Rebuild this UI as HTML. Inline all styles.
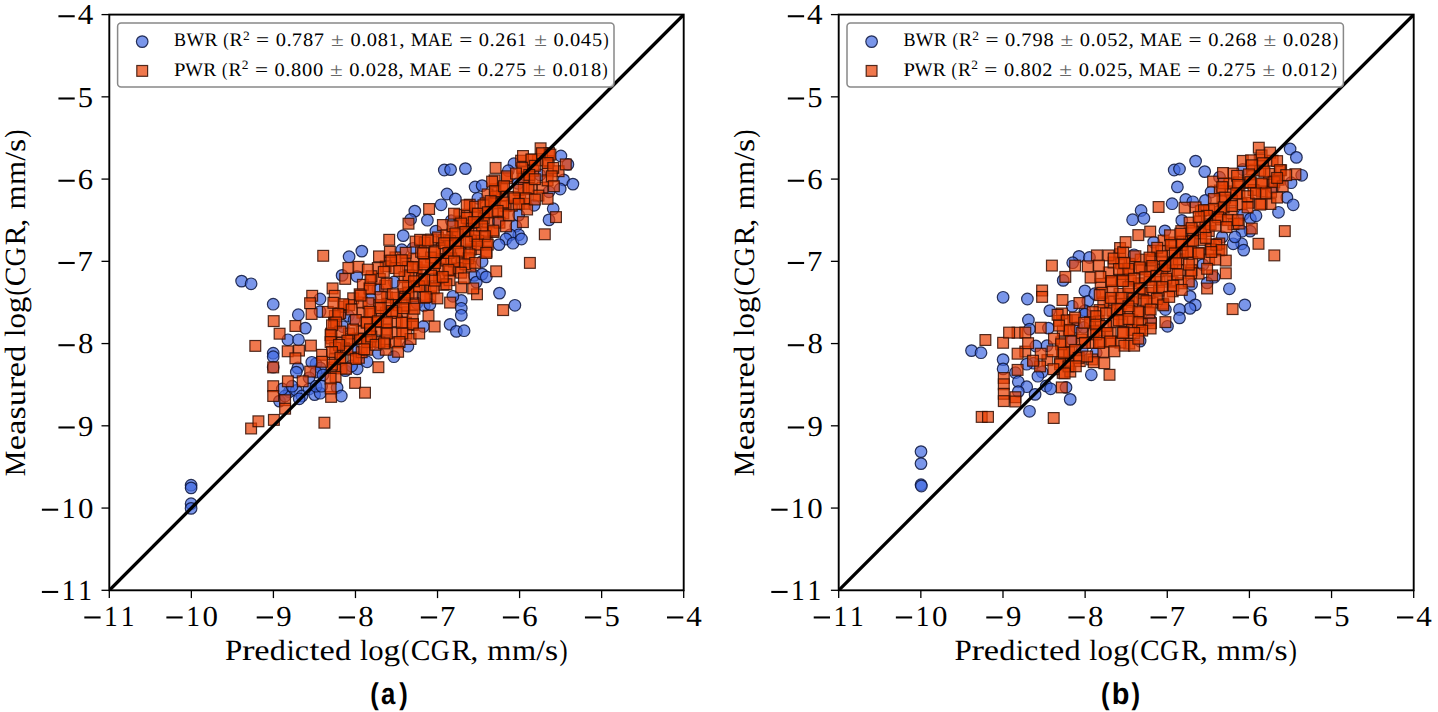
<!DOCTYPE html><html><head><meta charset="utf-8"><style>html,body{margin:0;padding:0;background:#fff;overflow:hidden}svg{display:block}</style></head><body>
<svg width="1438" height="712" viewBox="0 0 1438 712" text-rendering="geometricPrecision">
<rect width="1438" height="712" fill="#fff"/>
<clipPath id="clip0"><rect x="109.3" y="14.6" width="574.4000000000001" height="575.6999999999999"/></clipPath>
<g clip-path="url(#clip0)">
<g fill="rgb(65,105,225)" fill-opacity=".7" stroke="rgb(10,20,60)" stroke-opacity=".85" stroke-width="1.2"><circle cx="474.2" cy="275.4" r="5.8"/><circle cx="444.3" cy="170.0" r="5.8"/><circle cx="450.6" cy="169.6" r="5.8"/><circle cx="465.4" cy="168.6" r="5.8"/><circle cx="441.1" cy="204.8" r="5.8"/><circle cx="414.8" cy="211.1" r="5.8"/><circle cx="427.4" cy="220.2" r="5.8"/><circle cx="410.6" cy="219.5" r="5.8"/><circle cx="435.9" cy="231.1" r="5.8"/><circle cx="342.1" cy="275.4" r="5.8"/><circle cx="345.3" cy="370.6" r="5.8"/><circle cx="320.0" cy="299.0" r="5.8"/><circle cx="320.0" cy="311.6" r="5.8"/><circle cx="416.9" cy="303.2" r="5.8"/><circle cx="499.5" cy="293.1" r="5.8"/><circle cx="514.9" cy="305.3" r="5.8"/><circle cx="476.3" cy="282.1" r="5.8"/><circle cx="241.6" cy="281.1" r="5.8"/><circle cx="251.1" cy="283.8" r="5.8"/><circle cx="273.2" cy="304.2" r="5.8"/><circle cx="191.1" cy="485.2" r="5.8"/><circle cx="191.1" cy="487.9" r="5.8"/><circle cx="191.1" cy="503.7" r="5.8"/><circle cx="191.1" cy="508.4" r="5.8"/><circle cx="279.5" cy="401.1" r="5.8"/><circle cx="403.2" cy="235.6" r="5.8"/><circle cx="361.8" cy="251.1" r="5.8"/><circle cx="349.1" cy="256.7" r="5.8"/><circle cx="356.9" cy="276.3" r="5.8"/><circle cx="348.4" cy="315.7" r="5.8"/><circle cx="354.0" cy="319.9" r="5.8"/><circle cx="424.3" cy="305.8" r="5.8"/><circle cx="429.9" cy="304.4" r="5.8"/><circle cx="370.9" cy="298.8" r="5.8"/><circle cx="377.9" cy="289.0" r="5.8"/><circle cx="394.1" cy="282.0" r="5.8"/><circle cx="413.0" cy="248.3" r="5.8"/><circle cx="401.8" cy="249.7" r="5.8"/><circle cx="447.0" cy="194.0" r="5.8"/><circle cx="455.4" cy="199.0" r="5.8"/><circle cx="475.1" cy="187.0" r="5.8"/><circle cx="482.1" cy="185.6" r="5.8"/><circle cx="477.9" cy="198.3" r="5.8"/><circle cx="451.2" cy="220.7" r="5.8"/><circle cx="515.8" cy="226.3" r="5.8"/><circle cx="518.7" cy="234.8" r="5.8"/><circle cx="510.2" cy="234.8" r="5.8"/><circle cx="506.0" cy="239.0" r="5.8"/><circle cx="513.0" cy="243.2" r="5.8"/><circle cx="521.5" cy="239.0" r="5.8"/><circle cx="499.0" cy="244.6" r="5.8"/><circle cx="482.1" cy="261.5" r="5.8"/><circle cx="482.1" cy="274.1" r="5.8"/><circle cx="534.1" cy="205.3" r="5.8"/><circle cx="518.7" cy="215.1" r="5.8"/><circle cx="486.3" cy="276.9" r="5.8"/><circle cx="560.9" cy="156.0" r="5.8"/><circle cx="567.9" cy="164.4" r="5.8"/><circle cx="563.7" cy="179.9" r="5.8"/><circle cx="572.9" cy="184.1" r="5.8"/><circle cx="560.2" cy="189.0" r="5.8"/><circle cx="549.0" cy="191.8" r="5.8"/><circle cx="553.2" cy="208.7" r="5.8"/><circle cx="549.0" cy="219.9" r="5.8"/><circle cx="513.9" cy="163.7" r="5.8"/><circle cx="508.3" cy="170.7" r="5.8"/><circle cx="539.9" cy="174.9" r="5.8"/><circle cx="518.1" cy="183.4" r="5.8"/><circle cx="498.4" cy="221.3" r="5.8"/><circle cx="298.3" cy="314.7" r="5.8"/><circle cx="305.3" cy="328.1" r="5.8"/><circle cx="357.2" cy="368.8" r="5.8"/><circle cx="351.6" cy="366.0" r="5.8"/><circle cx="367.1" cy="361.8" r="5.8"/><circle cx="354.4" cy="350.6" r="5.8"/><circle cx="343.2" cy="326.7" r="5.8"/><circle cx="461.3" cy="300.5" r="5.8"/><circle cx="461.3" cy="308.3" r="5.8"/><circle cx="461.3" cy="315.3" r="5.8"/><circle cx="450.1" cy="324.4" r="5.8"/><circle cx="456.4" cy="331.4" r="5.8"/><circle cx="464.1" cy="330.7" r="5.8"/><circle cx="452.9" cy="296.3" r="5.8"/><circle cx="423.4" cy="326.5" r="5.8"/><circle cx="407.9" cy="346.2" r="5.8"/><circle cx="393.9" cy="356.7" r="5.8"/><circle cx="378.4" cy="353.2" r="5.8"/><circle cx="297.8" cy="367.9" r="5.8"/><circle cx="296.3" cy="372.1" r="5.8"/><circle cx="316.0" cy="363.7" r="5.8"/><circle cx="320.2" cy="367.9" r="5.8"/><circle cx="316.0" cy="372.1" r="5.8"/><circle cx="323.0" cy="374.9" r="5.8"/><circle cx="309.0" cy="377.8" r="5.8"/><circle cx="289.3" cy="391.8" r="5.8"/><circle cx="296.3" cy="390.4" r="5.8"/><circle cx="302.0" cy="396.0" r="5.8"/><circle cx="309.0" cy="389.0" r="5.8"/><circle cx="314.6" cy="394.6" r="5.8"/><circle cx="320.2" cy="393.2" r="5.8"/><circle cx="316.0" cy="386.2" r="5.8"/><circle cx="321.6" cy="386.2" r="5.8"/><circle cx="285.1" cy="396.0" r="5.8"/><circle cx="282.3" cy="389.0" r="5.8"/><circle cx="292.1" cy="386.2" r="5.8"/><circle cx="337.1" cy="387.6" r="5.8"/><circle cx="341.3" cy="396.0" r="5.8"/><circle cx="311.8" cy="362.3" r="5.8"/><circle cx="299.2" cy="398.8" r="5.8"/><circle cx="273.2" cy="353.2" r="5.8"/><circle cx="273.2" cy="356.7" r="5.8"/><circle cx="273.2" cy="367.2" r="5.8"/><circle cx="287.9" cy="339.8" r="5.8"/><circle cx="298.5" cy="339.8" r="5.8"/></g>
<g fill="rgb(234,62,2)" fill-opacity=".7" stroke="rgb(50,15,5)" stroke-opacity=".85" stroke-width="1.2"><rect x="397.7" y="306.8" width="10.8" height="10.8"/><rect x="446.9" y="228.4" width="10.8" height="10.8"/><rect x="490.3" y="183.8" width="10.8" height="10.8"/><rect x="328.7" y="362.2" width="10.8" height="10.8"/><rect x="482.1" y="189.0" width="10.8" height="10.8"/><rect x="481.3" y="235.9" width="10.8" height="10.8"/><rect x="380.5" y="307.2" width="10.8" height="10.8"/><rect x="390.2" y="327.6" width="10.8" height="10.8"/><rect x="373.0" y="310.5" width="10.8" height="10.8"/><rect x="478.9" y="208.9" width="10.8" height="10.8"/><rect x="379.8" y="335.9" width="10.8" height="10.8"/><rect x="444.4" y="265.5" width="10.8" height="10.8"/><rect x="469.5" y="227.4" width="10.8" height="10.8"/><rect x="357.0" y="307.3" width="10.8" height="10.8"/><rect x="380.4" y="344.4" width="10.8" height="10.8"/><rect x="424.9" y="291.0" width="10.8" height="10.8"/><rect x="336.1" y="363.0" width="10.8" height="10.8"/><rect x="384.3" y="255.4" width="10.8" height="10.8"/><rect x="497.0" y="182.7" width="10.8" height="10.8"/><rect x="374.0" y="336.6" width="10.8" height="10.8"/><rect x="408.6" y="253.2" width="10.8" height="10.8"/><rect x="363.9" y="283.0" width="10.8" height="10.8"/><rect x="400.0" y="255.3" width="10.8" height="10.8"/><rect x="415.7" y="246.4" width="10.8" height="10.8"/><rect x="480.8" y="226.4" width="10.8" height="10.8"/><rect x="496.6" y="190.6" width="10.8" height="10.8"/><rect x="356.2" y="326.2" width="10.8" height="10.8"/><rect x="506.4" y="200.3" width="10.8" height="10.8"/><rect x="347.9" y="352.1" width="10.8" height="10.8"/><rect x="452.7" y="229.4" width="10.8" height="10.8"/><rect x="490.3" y="191.1" width="10.8" height="10.8"/><rect x="435.2" y="254.0" width="10.8" height="10.8"/><rect x="406.6" y="290.7" width="10.8" height="10.8"/><rect x="455.6" y="247.2" width="10.8" height="10.8"/><rect x="334.8" y="307.7" width="10.8" height="10.8"/><rect x="338.1" y="301.4" width="10.8" height="10.8"/><rect x="487.7" y="207.0" width="10.8" height="10.8"/><rect x="425.9" y="234.1" width="10.8" height="10.8"/><rect x="407.2" y="319.6" width="10.8" height="10.8"/><rect x="489.2" y="174.9" width="10.8" height="10.8"/><rect x="365.2" y="326.2" width="10.8" height="10.8"/><rect x="402.4" y="281.8" width="10.8" height="10.8"/><rect x="381.6" y="292.0" width="10.8" height="10.8"/><rect x="353.5" y="352.4" width="10.8" height="10.8"/><rect x="390.0" y="252.0" width="10.8" height="10.8"/><rect x="500.2" y="200.7" width="10.8" height="10.8"/><rect x="464.3" y="199.3" width="10.8" height="10.8"/><rect x="462.9" y="225.0" width="10.8" height="10.8"/><rect x="470.0" y="243.7" width="10.8" height="10.8"/><rect x="480.2" y="198.0" width="10.8" height="10.8"/><rect x="328.6" y="317.1" width="10.8" height="10.8"/><rect x="419.8" y="281.1" width="10.8" height="10.8"/><rect x="391.4" y="315.9" width="10.8" height="10.8"/><rect x="438.2" y="279.4" width="10.8" height="10.8"/><rect x="390.6" y="299.8" width="10.8" height="10.8"/><rect x="465.4" y="244.1" width="10.8" height="10.8"/><rect x="453.9" y="209.4" width="10.8" height="10.8"/><rect x="532.5" y="155.0" width="10.8" height="10.8"/><rect x="433.7" y="263.3" width="10.8" height="10.8"/><rect x="436.4" y="242.9" width="10.8" height="10.8"/><rect x="437.5" y="219.6" width="10.8" height="10.8"/><rect x="482.1" y="216.9" width="10.8" height="10.8"/><rect x="330.2" y="371.5" width="10.8" height="10.8"/><rect x="472.8" y="235.4" width="10.8" height="10.8"/><rect x="526.4" y="154.2" width="10.8" height="10.8"/><rect x="380.6" y="317.8" width="10.8" height="10.8"/><rect x="347.8" y="292.9" width="10.8" height="10.8"/><rect x="380.7" y="324.1" width="10.8" height="10.8"/><rect x="357.5" y="279.4" width="10.8" height="10.8"/><rect x="352.6" y="333.1" width="10.8" height="10.8"/><rect x="469.5" y="208.2" width="10.8" height="10.8"/><rect x="464.2" y="217.2" width="10.8" height="10.8"/><rect x="526.3" y="183.7" width="10.8" height="10.8"/><rect x="488.2" y="226.6" width="10.8" height="10.8"/><rect x="515.7" y="155.3" width="10.8" height="10.8"/><rect x="411.3" y="261.9" width="10.8" height="10.8"/><rect x="390.3" y="337.0" width="10.8" height="10.8"/><rect x="543.3" y="155.7" width="10.8" height="10.8"/><rect x="514.8" y="193.8" width="10.8" height="10.8"/><rect x="524.1" y="171.7" width="10.8" height="10.8"/><rect x="508.6" y="191.5" width="10.8" height="10.8"/><rect x="399.6" y="300.2" width="10.8" height="10.8"/><rect x="429.0" y="245.3" width="10.8" height="10.8"/><rect x="356.3" y="346.8" width="10.8" height="10.8"/><rect x="390.5" y="292.3" width="10.8" height="10.8"/><rect x="488.8" y="198.0" width="10.8" height="10.8"/><rect x="501.4" y="172.9" width="10.8" height="10.8"/><rect x="365.0" y="336.1" width="10.8" height="10.8"/><rect x="380.3" y="260.9" width="10.8" height="10.8"/><rect x="400.6" y="317.3" width="10.8" height="10.8"/><rect x="410.4" y="270.3" width="10.8" height="10.8"/><rect x="335.1" y="353.2" width="10.8" height="10.8"/><rect x="417.3" y="265.0" width="10.8" height="10.8"/><rect x="537.1" y="182.1" width="10.8" height="10.8"/><rect x="379.7" y="280.4" width="10.8" height="10.8"/><rect x="410.2" y="236.2" width="10.8" height="10.8"/><rect x="402.3" y="261.5" width="10.8" height="10.8"/><rect x="356.3" y="297.1" width="10.8" height="10.8"/><rect x="345.2" y="333.6" width="10.8" height="10.8"/><rect x="542.3" y="165.8" width="10.8" height="10.8"/><rect x="343.5" y="328.1" width="10.8" height="10.8"/><rect x="411.2" y="280.8" width="10.8" height="10.8"/><rect x="389.9" y="262.7" width="10.8" height="10.8"/><rect x="444.5" y="247.5" width="10.8" height="10.8"/><rect x="329.4" y="353.8" width="10.8" height="10.8"/><rect x="329.4" y="310.6" width="10.8" height="10.8"/><rect x="543.6" y="147.7" width="10.8" height="10.8"/><rect x="326.2" y="333.0" width="10.8" height="10.8"/><rect x="391.0" y="307.5" width="10.8" height="10.8"/><rect x="382.6" y="298.4" width="10.8" height="10.8"/><rect x="527.8" y="165.4" width="10.8" height="10.8"/><rect x="455.5" y="255.6" width="10.8" height="10.8"/><rect x="338.6" y="342.8" width="10.8" height="10.8"/><rect x="408.7" y="299.1" width="10.8" height="10.8"/><rect x="373.5" y="299.7" width="10.8" height="10.8"/><rect x="425.6" y="252.1" width="10.8" height="10.8"/><rect x="433.7" y="272.7" width="10.8" height="10.8"/><rect x="438.1" y="234.5" width="10.8" height="10.8"/><rect x="517.1" y="166.8" width="10.8" height="10.8"/><rect x="425.8" y="282.8" width="10.8" height="10.8"/><rect x="518.1" y="171.8" width="10.8" height="10.8"/><rect x="428.6" y="263.1" width="10.8" height="10.8"/><rect x="372.4" y="262.6" width="10.8" height="10.8"/><rect x="518.4" y="182.4" width="10.8" height="10.8"/><rect x="454.8" y="216.2" width="10.8" height="10.8"/><rect x="425.7" y="270.2" width="10.8" height="10.8"/><rect x="469.9" y="217.2" width="10.8" height="10.8"/><rect x="419.3" y="237.1" width="10.8" height="10.8"/><rect x="452.5" y="262.7" width="10.8" height="10.8"/><rect x="519.2" y="198.4" width="10.8" height="10.8"/><rect x="371.6" y="324.4" width="10.8" height="10.8"/><rect x="444.9" y="235.6" width="10.8" height="10.8"/><rect x="399.1" y="271.7" width="10.8" height="10.8"/><rect x="371.0" y="316.7" width="10.8" height="10.8"/><rect x="418.8" y="256.5" width="10.8" height="10.8"/><rect x="361.5" y="316.7" width="10.8" height="10.8"/><rect x="465.0" y="261.1" width="10.8" height="10.8"/><rect x="354.3" y="288.9" width="10.8" height="10.8"/><rect x="407.3" y="310.6" width="10.8" height="10.8"/><rect x="416.5" y="273.7" width="10.8" height="10.8"/><rect x="335.0" y="337.5" width="10.8" height="10.8"/><rect x="463.0" y="252.9" width="10.8" height="10.8"/><rect x="542.2" y="175.0" width="10.8" height="10.8"/><rect x="329.8" y="342.4" width="10.8" height="10.8"/><rect x="481.1" y="246.3" width="10.8" height="10.8"/><rect x="418.7" y="292.4" width="10.8" height="10.8"/><rect x="361.5" y="344.4" width="10.8" height="10.8"/><rect x="343.7" y="299.7" width="10.8" height="10.8"/><rect x="445.9" y="252.9" width="10.8" height="10.8"/><rect x="453.0" y="237.6" width="10.8" height="10.8"/><rect x="401.0" y="328.1" width="10.8" height="10.8"/><rect x="325.7" y="328.3" width="10.8" height="10.8"/><rect x="365.6" y="306.6" width="10.8" height="10.8"/><rect x="374.5" y="273.6" width="10.8" height="10.8"/><rect x="444.1" y="274.8" width="10.8" height="10.8"/><rect x="533.0" y="190.2" width="10.8" height="10.8"/><rect x="366.1" y="270.8" width="10.8" height="10.8"/><rect x="461.5" y="209.4" width="10.8" height="10.8"/><rect x="399.8" y="288.7" width="10.8" height="10.8"/><rect x="465.4" y="235.2" width="10.8" height="10.8"/><rect x="553.2" y="165.8" width="10.8" height="10.8"/><rect x="498.0" y="208.1" width="10.8" height="10.8"/><rect x="486.7" y="176.2" width="10.8" height="10.8"/><rect x="478.3" y="213.1" width="10.8" height="10.8"/><rect x="494.1" y="217.3" width="10.8" height="10.8"/><rect x="539.4" y="228.9" width="10.8" height="10.8"/><rect x="423.7" y="203.6" width="10.8" height="10.8"/><rect x="403.1" y="218.3" width="10.8" height="10.8"/><rect x="317.8" y="250.4" width="10.8" height="10.8"/><rect x="432.6" y="232.0" width="10.8" height="10.8"/><rect x="441.0" y="229.9" width="10.8" height="10.8"/><rect x="441.0" y="255.2" width="10.8" height="10.8"/><rect x="403.1" y="270.0" width="10.8" height="10.8"/><rect x="327.2" y="283.0" width="10.8" height="10.8"/><rect x="329.3" y="290.4" width="10.8" height="10.8"/><rect x="337.8" y="298.8" width="10.8" height="10.8"/><rect x="403.1" y="287.2" width="10.8" height="10.8"/><rect x="413.6" y="280.9" width="10.8" height="10.8"/><rect x="428.4" y="283.0" width="10.8" height="10.8"/><rect x="441.0" y="278.8" width="10.8" height="10.8"/><rect x="455.8" y="282.0" width="10.8" height="10.8"/><rect x="346.2" y="304.1" width="10.8" height="10.8"/><rect x="363.1" y="297.8" width="10.8" height="10.8"/><rect x="350.4" y="314.6" width="10.8" height="10.8"/><rect x="354.6" y="333.6" width="10.8" height="10.8"/><rect x="405.2" y="333.6" width="10.8" height="10.8"/><rect x="342.0" y="344.1" width="10.8" height="10.8"/><rect x="471.6" y="288.9" width="10.8" height="10.8"/><rect x="497.7" y="304.7" width="10.8" height="10.8"/><rect x="467.8" y="283.0" width="10.8" height="10.8"/><rect x="268.3" y="315.7" width="10.8" height="10.8"/><rect x="274.2" y="328.3" width="10.8" height="10.8"/><rect x="249.9" y="340.5" width="10.8" height="10.8"/><rect x="267.8" y="362.0" width="10.8" height="10.8"/><rect x="245.7" y="423.1" width="10.8" height="10.8"/><rect x="306.8" y="290.4" width="10.8" height="10.8"/><rect x="304.7" y="297.8" width="10.8" height="10.8"/><rect x="325.7" y="391.5" width="10.8" height="10.8"/><rect x="383.8" y="234.4" width="10.8" height="10.8"/><rect x="414.7" y="234.4" width="10.8" height="10.8"/><rect x="422.4" y="235.1" width="10.8" height="10.8"/><rect x="384.5" y="246.4" width="10.8" height="10.8"/><rect x="400.3" y="247.4" width="10.8" height="10.8"/><rect x="417.7" y="247.8" width="10.8" height="10.8"/><rect x="429.5" y="246.8" width="10.8" height="10.8"/><rect x="373.6" y="251.0" width="10.8" height="10.8"/><rect x="385.9" y="255.2" width="10.8" height="10.8"/><rect x="396.4" y="254.8" width="10.8" height="10.8"/><rect x="407.4" y="261.8" width="10.8" height="10.8"/><rect x="418.9" y="259.0" width="10.8" height="10.8"/><rect x="429.5" y="257.6" width="10.8" height="10.8"/><rect x="343.0" y="262.5" width="10.8" height="10.8"/><rect x="353.1" y="261.4" width="10.8" height="10.8"/><rect x="362.4" y="264.2" width="10.8" height="10.8"/><rect x="378.4" y="266.5" width="10.8" height="10.8"/><rect x="393.9" y="265.6" width="10.8" height="10.8"/><rect x="339.8" y="273.5" width="10.8" height="10.8"/><rect x="365.1" y="274.7" width="10.8" height="10.8"/><rect x="381.2" y="278.3" width="10.8" height="10.8"/><rect x="397.8" y="280.5" width="10.8" height="10.8"/><rect x="408.6" y="275.9" width="10.8" height="10.8"/><rect x="418.9" y="274.5" width="10.8" height="10.8"/><rect x="429.5" y="275.2" width="10.8" height="10.8"/><rect x="364.4" y="283.2" width="10.8" height="10.8"/><rect x="355.2" y="290.2" width="10.8" height="10.8"/><rect x="375.3" y="291.6" width="10.8" height="10.8"/><rect x="387.5" y="288.8" width="10.8" height="10.8"/><rect x="399.2" y="293.4" width="10.8" height="10.8"/><rect x="420.3" y="291.7" width="10.8" height="10.8"/><rect x="364.1" y="306.3" width="10.8" height="10.8"/><rect x="375.3" y="302.8" width="10.8" height="10.8"/><rect x="386.6" y="305.6" width="10.8" height="10.8"/><rect x="397.8" y="302.8" width="10.8" height="10.8"/><rect x="409.0" y="303.3" width="10.8" height="10.8"/><rect x="423.1" y="310.3" width="10.8" height="10.8"/><rect x="361.3" y="317.3" width="10.8" height="10.8"/><rect x="372.5" y="315.9" width="10.8" height="10.8"/><rect x="396.4" y="317.3" width="10.8" height="10.8"/><rect x="407.6" y="318.7" width="10.8" height="10.8"/><rect x="513.3" y="184.4" width="10.8" height="10.8"/><rect x="523.1" y="183.0" width="10.8" height="10.8"/><rect x="489.4" y="185.8" width="10.8" height="10.8"/><rect x="509.0" y="192.9" width="10.8" height="10.8"/><rect x="520.3" y="192.9" width="10.8" height="10.8"/><rect x="461.3" y="199.9" width="10.8" height="10.8"/><rect x="469.7" y="201.3" width="10.8" height="10.8"/><rect x="478.1" y="199.9" width="10.8" height="10.8"/><rect x="485.2" y="195.7" width="10.8" height="10.8"/><rect x="497.8" y="197.1" width="10.8" height="10.8"/><rect x="513.3" y="198.5" width="10.8" height="10.8"/><rect x="521.7" y="204.1" width="10.8" height="10.8"/><rect x="448.6" y="208.3" width="10.8" height="10.8"/><rect x="461.3" y="212.5" width="10.8" height="10.8"/><rect x="472.5" y="208.3" width="10.8" height="10.8"/><rect x="482.4" y="206.9" width="10.8" height="10.8"/><rect x="492.2" y="205.5" width="10.8" height="10.8"/><rect x="503.4" y="209.7" width="10.8" height="10.8"/><rect x="517.5" y="216.7" width="10.8" height="10.8"/><rect x="500.6" y="220.9" width="10.8" height="10.8"/><rect x="488.0" y="225.2" width="10.8" height="10.8"/><rect x="476.7" y="220.9" width="10.8" height="10.8"/><rect x="468.3" y="216.7" width="10.8" height="10.8"/><rect x="455.7" y="218.1" width="10.8" height="10.8"/><rect x="447.2" y="220.9" width="10.8" height="10.8"/><rect x="450.0" y="228.0" width="10.8" height="10.8"/><rect x="459.9" y="226.6" width="10.8" height="10.8"/><rect x="469.7" y="230.8" width="10.8" height="10.8"/><rect x="479.5" y="230.8" width="10.8" height="10.8"/><rect x="438.8" y="237.8" width="10.8" height="10.8"/><rect x="450.0" y="237.8" width="10.8" height="10.8"/><rect x="461.3" y="236.4" width="10.8" height="10.8"/><rect x="472.5" y="239.2" width="10.8" height="10.8"/><rect x="482.4" y="239.2" width="10.8" height="10.8"/><rect x="443.0" y="247.6" width="10.8" height="10.8"/><rect x="452.9" y="246.2" width="10.8" height="10.8"/><rect x="464.1" y="249.0" width="10.8" height="10.8"/><rect x="480.9" y="247.6" width="10.8" height="10.8"/><rect x="448.6" y="256.1" width="10.8" height="10.8"/><rect x="459.9" y="258.9" width="10.8" height="10.8"/><rect x="469.7" y="257.5" width="10.8" height="10.8"/><rect x="490.8" y="265.9" width="10.8" height="10.8"/><rect x="524.5" y="257.5" width="10.8" height="10.8"/><rect x="443.0" y="264.5" width="10.8" height="10.8"/><rect x="455.7" y="267.3" width="10.8" height="10.8"/><rect x="437.4" y="271.5" width="10.8" height="10.8"/><rect x="458.5" y="272.9" width="10.8" height="10.8"/><rect x="535.2" y="142.9" width="10.8" height="10.8"/><rect x="517.6" y="150.6" width="10.8" height="10.8"/><rect x="526.0" y="154.1" width="10.8" height="10.8"/><rect x="536.6" y="147.8" width="10.8" height="10.8"/><rect x="545.0" y="149.2" width="10.8" height="10.8"/><rect x="542.2" y="157.6" width="10.8" height="10.8"/><rect x="547.8" y="162.5" width="10.8" height="10.8"/><rect x="560.4" y="159.0" width="10.8" height="10.8"/><rect x="516.9" y="162.5" width="10.8" height="10.8"/><rect x="529.5" y="160.4" width="10.8" height="10.8"/><rect x="490.2" y="162.5" width="10.8" height="10.8"/><rect x="501.5" y="170.9" width="10.8" height="10.8"/><rect x="510.6" y="168.1" width="10.8" height="10.8"/><rect x="523.9" y="169.5" width="10.8" height="10.8"/><rect x="546.4" y="170.9" width="10.8" height="10.8"/><rect x="548.5" y="180.8" width="10.8" height="10.8"/><rect x="498.6" y="180.8" width="10.8" height="10.8"/><rect x="529.5" y="173.8" width="10.8" height="10.8"/><rect x="542.2" y="193.4" width="10.8" height="10.8"/><rect x="529.5" y="194.1" width="10.8" height="10.8"/><rect x="550.6" y="211.7" width="10.8" height="10.8"/><rect x="306.2" y="308.6" width="10.8" height="10.8"/><rect x="322.4" y="306.5" width="10.8" height="10.8"/><rect x="332.9" y="308.6" width="10.8" height="10.8"/><rect x="330.8" y="317.1" width="10.8" height="10.8"/><rect x="335.0" y="326.2" width="10.8" height="10.8"/><rect x="347.6" y="324.1" width="10.8" height="10.8"/><rect x="326.6" y="319.9" width="10.8" height="10.8"/><rect x="325.2" y="329.7" width="10.8" height="10.8"/><rect x="290.0" y="320.6" width="10.8" height="10.8"/><rect x="305.5" y="340.2" width="10.8" height="10.8"/><rect x="282.3" y="345.9" width="10.8" height="10.8"/><rect x="293.6" y="345.2" width="10.8" height="10.8"/><rect x="290.0" y="352.9" width="10.8" height="10.8"/><rect x="325.2" y="336.7" width="10.8" height="10.8"/><rect x="342.0" y="335.3" width="10.8" height="10.8"/><rect x="333.6" y="339.5" width="10.8" height="10.8"/><rect x="316.7" y="349.4" width="10.8" height="10.8"/><rect x="326.6" y="346.6" width="10.8" height="10.8"/><rect x="335.0" y="352.2" width="10.8" height="10.8"/><rect x="350.4" y="353.6" width="10.8" height="10.8"/><rect x="361.7" y="336.7" width="10.8" height="10.8"/><rect x="365.9" y="331.1" width="10.8" height="10.8"/><rect x="358.9" y="343.8" width="10.8" height="10.8"/><rect x="340.6" y="363.4" width="10.8" height="10.8"/><rect x="326.6" y="359.2" width="10.8" height="10.8"/><rect x="316.7" y="356.4" width="10.8" height="10.8"/><rect x="304.8" y="366.2" width="10.8" height="10.8"/><rect x="325.2" y="373.3" width="10.8" height="10.8"/><rect x="325.2" y="383.1" width="10.8" height="10.8"/><rect x="349.7" y="377.5" width="10.8" height="10.8"/><rect x="359.6" y="387.3" width="10.8" height="10.8"/><rect x="328.0" y="297.4" width="10.8" height="10.8"/><rect x="432.0" y="293.0" width="10.8" height="10.8"/><rect x="444.7" y="297.2" width="10.8" height="10.8"/><rect x="429.2" y="321.1" width="10.8" height="10.8"/><rect x="381.5" y="316.9" width="10.8" height="10.8"/><rect x="413.8" y="328.1" width="10.8" height="10.8"/><rect x="381.5" y="328.1" width="10.8" height="10.8"/><rect x="396.9" y="328.1" width="10.8" height="10.8"/><rect x="370.2" y="339.4" width="10.8" height="10.8"/><rect x="378.6" y="338.0" width="10.8" height="10.8"/><rect x="394.1" y="336.6" width="10.8" height="10.8"/><rect x="392.7" y="346.4" width="10.8" height="10.8"/><rect x="373.0" y="361.8" width="10.8" height="10.8"/><rect x="364.6" y="323.9" width="10.8" height="10.8"/><rect x="267.8" y="380.8" width="10.8" height="10.8"/><rect x="267.8" y="390.6" width="10.8" height="10.8"/><rect x="279.7" y="394.8" width="10.8" height="10.8"/><rect x="279.7" y="403.3" width="10.8" height="10.8"/><rect x="297.3" y="375.9" width="10.8" height="10.8"/><rect x="282.5" y="375.9" width="10.8" height="10.8"/><rect x="268.5" y="414.5" width="10.8" height="10.8"/><rect x="253.0" y="415.9" width="10.8" height="10.8"/><rect x="319.0" y="417.3" width="10.8" height="10.8"/></g>
</g>
<line x1="109.3" y1="590.3" x2="683.7" y2="14.6" stroke="#000" stroke-width="3.3" clip-path="url(#clip0)"/>
<rect x="109.3" y="14.6" width="574.4000000000001" height="575.6999999999999" fill="none" stroke="#000" stroke-width="1.9"/>
<line x1="109.30" y1="590.3" x2="109.30" y2="598.0999999999999" stroke="#000" stroke-width="1.3"/>
<line x1="101.5" y1="590.30" x2="109.3" y2="590.30" stroke="#000" stroke-width="1.3"/>
<line x1="191.36" y1="590.3" x2="191.36" y2="598.0999999999999" stroke="#000" stroke-width="1.3"/>
<line x1="101.5" y1="508.06" x2="109.3" y2="508.06" stroke="#000" stroke-width="1.3"/>
<line x1="273.41" y1="590.3" x2="273.41" y2="598.0999999999999" stroke="#000" stroke-width="1.3"/>
<line x1="101.5" y1="425.81" x2="109.3" y2="425.81" stroke="#000" stroke-width="1.3"/>
<line x1="355.47" y1="590.3" x2="355.47" y2="598.0999999999999" stroke="#000" stroke-width="1.3"/>
<line x1="101.5" y1="343.57" x2="109.3" y2="343.57" stroke="#000" stroke-width="1.3"/>
<line x1="437.53" y1="590.3" x2="437.53" y2="598.0999999999999" stroke="#000" stroke-width="1.3"/>
<line x1="101.5" y1="261.33" x2="109.3" y2="261.33" stroke="#000" stroke-width="1.3"/>
<line x1="519.59" y1="590.3" x2="519.59" y2="598.0999999999999" stroke="#000" stroke-width="1.3"/>
<line x1="101.5" y1="179.09" x2="109.3" y2="179.09" stroke="#000" stroke-width="1.3"/>
<line x1="601.64" y1="590.3" x2="601.64" y2="598.0999999999999" stroke="#000" stroke-width="1.3"/>
<line x1="101.5" y1="96.84" x2="109.3" y2="96.84" stroke="#000" stroke-width="1.3"/>
<line x1="683.70" y1="590.3" x2="683.70" y2="598.0999999999999" stroke="#000" stroke-width="1.3"/>
<line x1="101.5" y1="14.60" x2="109.3" y2="14.60" stroke="#000" stroke-width="1.3"/>
<rect x="117.6" y="23.1" width="496.4" height="63.9" rx="3.5" fill="#fff" fill-opacity=".8" stroke="#888" stroke-width="1.5"/>
<circle cx="142.2" cy="41.6" r="5.8" fill="rgb(65,105,225)" fill-opacity=".7" stroke="rgb(10,20,60)" stroke-opacity=".85" stroke-width="1.2"/>
<rect x="136.8" y="65.5" width="10.8" height="10.8" fill="rgb(234,62,2)" fill-opacity=".7" stroke="rgb(50,15,5)" stroke-opacity=".85" stroke-width="1.2"/>
<clipPath id="clip1"><rect x="838.7" y="14.6" width="575.0" height="575.6999999999999"/></clipPath>
<g clip-path="url(#clip1)">
<g fill="rgb(65,105,225)" fill-opacity=".7" stroke="rgb(10,20,60)" stroke-opacity=".85" stroke-width="1.2"><circle cx="1290.1" cy="149.0" r="5.8"/><circle cx="1296.4" cy="157.4" r="5.8"/><circle cx="1301.7" cy="175.3" r="5.8"/><circle cx="1291.1" cy="182.7" r="5.8"/><circle cx="1286.9" cy="197.4" r="5.8"/><circle cx="1293.2" cy="204.8" r="5.8"/><circle cx="1174.2" cy="170.0" r="5.8"/><circle cx="1179.5" cy="169.0" r="5.8"/><circle cx="1177.4" cy="186.9" r="5.8"/><circle cx="1185.8" cy="199.5" r="5.8"/><circle cx="1172.1" cy="203.7" r="5.8"/><circle cx="1250.1" cy="231.1" r="5.8"/><circle cx="1241.6" cy="243.8" r="5.8"/><circle cx="1233.2" cy="243.8" r="5.8"/><circle cx="1243.7" cy="250.1" r="5.8"/><circle cx="1273.2" cy="187.9" r="5.8"/><circle cx="1079.0" cy="256.4" r="5.8"/><circle cx="1072.7" cy="262.7" r="5.8"/><circle cx="1089.5" cy="257.5" r="5.8"/><circle cx="1027.4" cy="299.0" r="5.8"/><circle cx="1028.4" cy="320.0" r="5.8"/><circle cx="1165.4" cy="309.5" r="5.8"/><circle cx="1167.5" cy="326.3" r="5.8"/><circle cx="1140.1" cy="341.1" r="5.8"/><circle cx="1150.6" cy="320.0" r="5.8"/><circle cx="1003.1" cy="297.3" r="5.8"/><circle cx="971.5" cy="350.6" r="5.8"/><circle cx="981.0" cy="352.7" r="5.8"/><circle cx="1003.1" cy="359.6" r="5.8"/><circle cx="1003.1" cy="368.9" r="5.8"/><circle cx="1015.4" cy="372.7" r="5.8"/><circle cx="1033.7" cy="363.2" r="5.8"/><circle cx="1229.4" cy="288.8" r="5.8"/><circle cx="1244.8" cy="304.9" r="5.8"/><circle cx="1190.0" cy="296.4" r="5.8"/><circle cx="1195.3" cy="304.9" r="5.8"/><circle cx="1190.0" cy="308.4" r="5.8"/><circle cx="1179.5" cy="309.5" r="5.8"/><circle cx="1179.5" cy="317.9" r="5.8"/><circle cx="921.0" cy="451.6" r="5.8"/><circle cx="921.0" cy="463.6" r="5.8"/><circle cx="921.0" cy="484.7" r="5.8"/><circle cx="921.4" cy="486.0" r="5.8"/><circle cx="1195.6" cy="161.1" r="5.8"/><circle cx="1204.7" cy="171.6" r="5.8"/><circle cx="1242.7" cy="169.5" r="5.8"/><circle cx="1219.5" cy="177.2" r="5.8"/><circle cx="1211.1" cy="192.0" r="5.8"/><circle cx="1205.4" cy="200.4" r="5.8"/><circle cx="1192.8" cy="201.8" r="5.8"/><circle cx="1243.4" cy="214.4" r="5.8"/><circle cx="1250.4" cy="218.7" r="5.8"/><circle cx="1256.0" cy="215.8" r="5.8"/><circle cx="1278.5" cy="212.3" r="5.8"/><circle cx="1242.0" cy="231.3" r="5.8"/><circle cx="1234.9" cy="236.9" r="5.8"/><circle cx="1222.3" cy="236.9" r="5.8"/><circle cx="1141.1" cy="210.5" r="5.8"/><circle cx="1132.6" cy="219.7" r="5.8"/><circle cx="1143.9" cy="218.3" r="5.8"/><circle cx="1181.8" cy="220.4" r="5.8"/><circle cx="1164.9" cy="230.9" r="5.8"/><circle cx="1153.7" cy="242.1" r="5.8"/><circle cx="1134.0" cy="254.8" r="5.8"/><circle cx="1214.1" cy="277.2" r="5.8"/><circle cx="1207.1" cy="282.9" r="5.8"/><circle cx="1191.6" cy="284.3" r="5.8"/><circle cx="1202.9" cy="264.6" r="5.8"/><circle cx="1063.2" cy="280.4" r="5.8"/><circle cx="1084.9" cy="290.9" r="5.8"/><circle cx="1087.8" cy="301.4" r="5.8"/><circle cx="1049.8" cy="310.6" r="5.8"/><circle cx="1072.3" cy="306.3" r="5.8"/><circle cx="1084.9" cy="310.6" r="5.8"/><circle cx="1084.9" cy="314.1" r="5.8"/><circle cx="1076.5" cy="327.4" r="5.8"/><circle cx="1083.5" cy="327.4" r="5.8"/><circle cx="1072.3" cy="340.1" r="5.8"/><circle cx="1047.0" cy="345.7" r="5.8"/><circle cx="1096.2" cy="352.7" r="5.8"/><circle cx="1082.1" cy="349.9" r="5.8"/><circle cx="1094.8" cy="293.7" r="5.8"/><circle cx="1048.4" cy="328.1" r="5.8"/><circle cx="1029.5" cy="329.1" r="5.8"/><circle cx="1035.8" cy="346.0" r="5.8"/><circle cx="1026.7" cy="364.2" r="5.8"/><circle cx="1042.1" cy="372.0" r="5.8"/><circle cx="1037.9" cy="376.2" r="5.8"/><circle cx="1018.3" cy="381.8" r="5.8"/><circle cx="1026.7" cy="386.7" r="5.8"/><circle cx="1018.3" cy="391.6" r="5.8"/><circle cx="1035.1" cy="394.4" r="5.8"/><circle cx="1046.3" cy="386.0" r="5.8"/><circle cx="1050.6" cy="388.8" r="5.8"/><circle cx="1066.0" cy="387.4" r="5.8"/><circle cx="1070.2" cy="399.4" r="5.8"/><circle cx="1029.5" cy="411.3" r="5.8"/><circle cx="1091.3" cy="374.8" r="5.8"/></g>
<g fill="rgb(234,62,2)" fill-opacity=".7" stroke="rgb(50,15,5)" stroke-opacity=".85" stroke-width="1.2"><rect x="1257.1" y="178.7" width="10.8" height="10.8"/><rect x="1228.1" y="218.8" width="10.8" height="10.8"/><rect x="1063.5" y="324.4" width="10.8" height="10.8"/><rect x="1115.5" y="275.6" width="10.8" height="10.8"/><rect x="1063.4" y="358.5" width="10.8" height="10.8"/><rect x="1217.0" y="194.6" width="10.8" height="10.8"/><rect x="1147.0" y="297.2" width="10.8" height="10.8"/><rect x="1267.8" y="175.8" width="10.8" height="10.8"/><rect x="1104.3" y="296.4" width="10.8" height="10.8"/><rect x="1107.1" y="305.1" width="10.8" height="10.8"/><rect x="1133.3" y="277.9" width="10.8" height="10.8"/><rect x="1213.5" y="245.0" width="10.8" height="10.8"/><rect x="1057.4" y="325.2" width="10.8" height="10.8"/><rect x="1234.0" y="188.1" width="10.8" height="10.8"/><rect x="1203.7" y="254.0" width="10.8" height="10.8"/><rect x="1056.6" y="308.1" width="10.8" height="10.8"/><rect x="1184.2" y="217.2" width="10.8" height="10.8"/><rect x="1225.2" y="186.0" width="10.8" height="10.8"/><rect x="1123.5" y="264.9" width="10.8" height="10.8"/><rect x="1097.9" y="296.7" width="10.8" height="10.8"/><rect x="1245.1" y="177.6" width="10.8" height="10.8"/><rect x="1094.1" y="304.7" width="10.8" height="10.8"/><rect x="1166.3" y="246.1" width="10.8" height="10.8"/><rect x="1193.2" y="268.2" width="10.8" height="10.8"/><rect x="1074.0" y="297.6" width="10.8" height="10.8"/><rect x="1183.7" y="236.0" width="10.8" height="10.8"/><rect x="1265.0" y="198.6" width="10.8" height="10.8"/><rect x="1163.5" y="265.1" width="10.8" height="10.8"/><rect x="1227.7" y="168.2" width="10.8" height="10.8"/><rect x="1203.4" y="225.6" width="10.8" height="10.8"/><rect x="1205.2" y="238.9" width="10.8" height="10.8"/><rect x="1133.7" y="307.1" width="10.8" height="10.8"/><rect x="1166.4" y="237.1" width="10.8" height="10.8"/><rect x="1213.9" y="238.1" width="10.8" height="10.8"/><rect x="1114.8" y="248.8" width="10.8" height="10.8"/><rect x="1125.4" y="275.3" width="10.8" height="10.8"/><rect x="1087.2" y="337.5" width="10.8" height="10.8"/><rect x="1114.5" y="308.7" width="10.8" height="10.8"/><rect x="1145.6" y="317.8" width="10.8" height="10.8"/><rect x="1195.4" y="205.7" width="10.8" height="10.8"/><rect x="1174.3" y="264.7" width="10.8" height="10.8"/><rect x="1193.4" y="247.3" width="10.8" height="10.8"/><rect x="1143.9" y="307.3" width="10.8" height="10.8"/><rect x="1154.2" y="276.6" width="10.8" height="10.8"/><rect x="1056.6" y="347.9" width="10.8" height="10.8"/><rect x="1124.2" y="258.4" width="10.8" height="10.8"/><rect x="1126.6" y="296.8" width="10.8" height="10.8"/><rect x="1246.7" y="164.3" width="10.8" height="10.8"/><rect x="1054.8" y="356.9" width="10.8" height="10.8"/><rect x="1243.4" y="197.4" width="10.8" height="10.8"/><rect x="1166.8" y="257.4" width="10.8" height="10.8"/><rect x="1224.0" y="178.1" width="10.8" height="10.8"/><rect x="1086.7" y="354.0" width="10.8" height="10.8"/><rect x="1167.1" y="276.7" width="10.8" height="10.8"/><rect x="1136.3" y="264.0" width="10.8" height="10.8"/><rect x="1093.5" y="325.0" width="10.8" height="10.8"/><rect x="1095.3" y="278.5" width="10.8" height="10.8"/><rect x="1214.6" y="206.2" width="10.8" height="10.8"/><rect x="1146.0" y="254.4" width="10.8" height="10.8"/><rect x="1186.8" y="256.7" width="10.8" height="10.8"/><rect x="1195.9" y="234.5" width="10.8" height="10.8"/><rect x="1185.4" y="246.2" width="10.8" height="10.8"/><rect x="1248.1" y="184.6" width="10.8" height="10.8"/><rect x="1173.3" y="253.9" width="10.8" height="10.8"/><rect x="1087.3" y="306.7" width="10.8" height="10.8"/><rect x="1267.2" y="155.3" width="10.8" height="10.8"/><rect x="1195.6" y="228.0" width="10.8" height="10.8"/><rect x="1123.9" y="338.2" width="10.8" height="10.8"/><rect x="1106.0" y="336.0" width="10.8" height="10.8"/><rect x="1115.0" y="337.2" width="10.8" height="10.8"/><rect x="1237.4" y="155.5" width="10.8" height="10.8"/><rect x="1214.4" y="185.1" width="10.8" height="10.8"/><rect x="1126.9" y="315.2" width="10.8" height="10.8"/><rect x="1116.9" y="315.6" width="10.8" height="10.8"/><rect x="1094.9" y="337.2" width="10.8" height="10.8"/><rect x="1175.5" y="277.9" width="10.8" height="10.8"/><rect x="1057.3" y="367.5" width="10.8" height="10.8"/><rect x="1263.6" y="168.5" width="10.8" height="10.8"/><rect x="1123.5" y="288.5" width="10.8" height="10.8"/><rect x="1136.4" y="318.7" width="10.8" height="10.8"/><rect x="1233.6" y="177.0" width="10.8" height="10.8"/><rect x="1156.0" y="257.1" width="10.8" height="10.8"/><rect x="1126.3" y="324.6" width="10.8" height="10.8"/><rect x="1076.2" y="334.3" width="10.8" height="10.8"/><rect x="1236.0" y="198.8" width="10.8" height="10.8"/><rect x="1205.5" y="244.0" width="10.8" height="10.8"/><rect x="1147.7" y="245.4" width="10.8" height="10.8"/><rect x="1254.8" y="165.1" width="10.8" height="10.8"/><rect x="1256.1" y="198.2" width="10.8" height="10.8"/><rect x="1167.3" y="285.9" width="10.8" height="10.8"/><rect x="1114.1" y="288.4" width="10.8" height="10.8"/><rect x="1203.7" y="204.8" width="10.8" height="10.8"/><rect x="1063.9" y="346.4" width="10.8" height="10.8"/><rect x="1106.0" y="275.8" width="10.8" height="10.8"/><rect x="1256.4" y="186.1" width="10.8" height="10.8"/><rect x="1254.3" y="154.4" width="10.8" height="10.8"/><rect x="1103.4" y="267.0" width="10.8" height="10.8"/><rect x="1064.9" y="366.2" width="10.8" height="10.8"/><rect x="1205.2" y="218.9" width="10.8" height="10.8"/><rect x="1053.8" y="315.4" width="10.8" height="10.8"/><rect x="1187.7" y="225.4" width="10.8" height="10.8"/><rect x="1074.4" y="355.7" width="10.8" height="10.8"/><rect x="1275.7" y="164.8" width="10.8" height="10.8"/><rect x="1105.3" y="327.6" width="10.8" height="10.8"/><rect x="1177.3" y="247.5" width="10.8" height="10.8"/><rect x="1096.8" y="287.4" width="10.8" height="10.8"/><rect x="1115.8" y="298.5" width="10.8" height="10.8"/><rect x="1124.0" y="305.6" width="10.8" height="10.8"/><rect x="1108.1" y="257.1" width="10.8" height="10.8"/><rect x="1176.7" y="236.0" width="10.8" height="10.8"/><rect x="1068.0" y="314.7" width="10.8" height="10.8"/><rect x="1118.2" y="326.9" width="10.8" height="10.8"/><rect x="1265.7" y="186.5" width="10.8" height="10.8"/><rect x="1093.4" y="316.2" width="10.8" height="10.8"/><rect x="1217.8" y="177.9" width="10.8" height="10.8"/><rect x="1157.0" y="264.1" width="10.8" height="10.8"/><rect x="1226.5" y="195.1" width="10.8" height="10.8"/><rect x="1207.7" y="176.2" width="10.8" height="10.8"/><rect x="1055.9" y="337.0" width="10.8" height="10.8"/><rect x="1144.4" y="274.5" width="10.8" height="10.8"/><rect x="1117.5" y="268.6" width="10.8" height="10.8"/><rect x="1144.3" y="265.9" width="10.8" height="10.8"/><rect x="1144.2" y="287.5" width="10.8" height="10.8"/><rect x="1226.1" y="207.7" width="10.8" height="10.8"/><rect x="1175.9" y="225.7" width="10.8" height="10.8"/><rect x="1137.2" y="287.7" width="10.8" height="10.8"/><rect x="1098.0" y="346.5" width="10.8" height="10.8"/><rect x="1215.5" y="214.1" width="10.8" height="10.8"/><rect x="1273.3" y="174.3" width="10.8" height="10.8"/><rect x="1158.2" y="235.2" width="10.8" height="10.8"/><rect x="1186.1" y="264.8" width="10.8" height="10.8"/><rect x="1137.9" y="294.5" width="10.8" height="10.8"/><rect x="1084.6" y="316.7" width="10.8" height="10.8"/><rect x="1157.7" y="298.3" width="10.8" height="10.8"/><rect x="1108.1" y="316.3" width="10.8" height="10.8"/><rect x="1245.7" y="154.9" width="10.8" height="10.8"/><rect x="1155.9" y="245.5" width="10.8" height="10.8"/><rect x="1194.3" y="216.0" width="10.8" height="10.8"/><rect x="1233.4" y="218.2" width="10.8" height="10.8"/><rect x="1107.1" y="285.1" width="10.8" height="10.8"/><rect x="1115.8" y="258.0" width="10.8" height="10.8"/><rect x="1135.3" y="254.2" width="10.8" height="10.8"/><rect x="1153.6" y="285.3" width="10.8" height="10.8"/><rect x="1134.3" y="324.6" width="10.8" height="10.8"/><rect x="1088.2" y="325.9" width="10.8" height="10.8"/><rect x="1290.0" y="168.8" width="10.8" height="10.8"/><rect x="1279.4" y="225.7" width="10.8" height="10.8"/><rect x="1253.1" y="238.4" width="10.8" height="10.8"/><rect x="1268.9" y="250.0" width="10.8" height="10.8"/><rect x="1210.9" y="239.4" width="10.8" height="10.8"/><rect x="1216.2" y="244.7" width="10.8" height="10.8"/><rect x="1220.4" y="255.2" width="10.8" height="10.8"/><rect x="1220.4" y="267.9" width="10.8" height="10.8"/><rect x="1209.9" y="254.2" width="10.8" height="10.8"/><rect x="1185.7" y="267.9" width="10.8" height="10.8"/><rect x="1164.6" y="229.9" width="10.8" height="10.8"/><rect x="1206.7" y="270.0" width="10.8" height="10.8"/><rect x="1114.7" y="242.6" width="10.8" height="10.8"/><rect x="1103.1" y="250.0" width="10.8" height="10.8"/><rect x="1091.5" y="250.0" width="10.8" height="10.8"/><rect x="1108.3" y="253.1" width="10.8" height="10.8"/><rect x="1117.8" y="246.8" width="10.8" height="10.8"/><rect x="1113.6" y="263.6" width="10.8" height="10.8"/><rect x="1036.7" y="285.1" width="10.8" height="10.8"/><rect x="1036.7" y="291.5" width="10.8" height="10.8"/><rect x="1151.5" y="293.6" width="10.8" height="10.8"/><rect x="1141.0" y="295.7" width="10.8" height="10.8"/><rect x="1132.6" y="306.2" width="10.8" height="10.8"/><rect x="1145.2" y="304.1" width="10.8" height="10.8"/><rect x="1157.9" y="299.9" width="10.8" height="10.8"/><rect x="1160.0" y="316.7" width="10.8" height="10.8"/><rect x="1145.2" y="323.1" width="10.8" height="10.8"/><rect x="1132.6" y="316.7" width="10.8" height="10.8"/><rect x="1136.8" y="325.2" width="10.8" height="10.8"/><rect x="1042.0" y="354.7" width="10.8" height="10.8"/><rect x="1054.6" y="358.9" width="10.8" height="10.8"/><rect x="1063.1" y="361.0" width="10.8" height="10.8"/><rect x="1088.3" y="356.8" width="10.8" height="10.8"/><rect x="1098.9" y="357.8" width="10.8" height="10.8"/><rect x="1104.1" y="369.4" width="10.8" height="10.8"/><rect x="1048.3" y="412.6" width="10.8" height="10.8"/><rect x="980.0" y="334.6" width="10.8" height="10.8"/><rect x="997.7" y="337.4" width="10.8" height="10.8"/><rect x="998.4" y="372.6" width="10.8" height="10.8"/><rect x="998.4" y="378.9" width="10.8" height="10.8"/><rect x="998.4" y="388.4" width="10.8" height="10.8"/><rect x="998.4" y="395.7" width="10.8" height="10.8"/><rect x="976.3" y="411.5" width="10.8" height="10.8"/><rect x="982.6" y="411.5" width="10.8" height="10.8"/><rect x="1012.1" y="327.3" width="10.8" height="10.8"/><rect x="1019.9" y="346.2" width="10.8" height="10.8"/><rect x="1034.7" y="361.0" width="10.8" height="10.8"/><rect x="1227.2" y="303.7" width="10.8" height="10.8"/><rect x="1253.4" y="142.3" width="10.8" height="10.8"/><rect x="1256.2" y="150.0" width="10.8" height="10.8"/><rect x="1264.7" y="147.2" width="10.8" height="10.8"/><rect x="1271.7" y="155.7" width="10.8" height="10.8"/><rect x="1246.4" y="159.9" width="10.8" height="10.8"/><rect x="1257.6" y="157.8" width="10.8" height="10.8"/><rect x="1217.6" y="167.6" width="10.8" height="10.8"/><rect x="1231.7" y="170.4" width="10.8" height="10.8"/><rect x="1243.6" y="169.0" width="10.8" height="10.8"/><rect x="1259.0" y="166.2" width="10.8" height="10.8"/><rect x="1274.5" y="164.8" width="10.8" height="10.8"/><rect x="1280.8" y="169.7" width="10.8" height="10.8"/><rect x="1216.9" y="181.7" width="10.8" height="10.8"/><rect x="1232.4" y="179.5" width="10.8" height="10.8"/><rect x="1245.0" y="176.7" width="10.8" height="10.8"/><rect x="1256.2" y="178.1" width="10.8" height="10.8"/><rect x="1268.9" y="176.7" width="10.8" height="10.8"/><rect x="1277.3" y="180.9" width="10.8" height="10.8"/><rect x="1208.5" y="193.6" width="10.8" height="10.8"/><rect x="1219.7" y="192.2" width="10.8" height="10.8"/><rect x="1230.9" y="188.0" width="10.8" height="10.8"/><rect x="1242.2" y="190.8" width="10.8" height="10.8"/><rect x="1250.6" y="188.0" width="10.8" height="10.8"/><rect x="1260.4" y="188.0" width="10.8" height="10.8"/><rect x="1271.7" y="192.2" width="10.8" height="10.8"/><rect x="1190.2" y="202.0" width="10.8" height="10.8"/><rect x="1198.6" y="204.8" width="10.8" height="10.8"/><rect x="1208.5" y="203.4" width="10.8" height="10.8"/><rect x="1218.3" y="202.0" width="10.8" height="10.8"/><rect x="1226.7" y="200.6" width="10.8" height="10.8"/><rect x="1242.2" y="202.0" width="10.8" height="10.8"/><rect x="1254.8" y="199.2" width="10.8" height="10.8"/><rect x="1201.5" y="210.4" width="10.8" height="10.8"/><rect x="1212.7" y="211.8" width="10.8" height="10.8"/><rect x="1222.5" y="214.7" width="10.8" height="10.8"/><rect x="1232.4" y="214.7" width="10.8" height="10.8"/><rect x="1246.4" y="223.1" width="10.8" height="10.8"/><rect x="1200.0" y="221.7" width="10.8" height="10.8"/><rect x="1209.9" y="220.3" width="10.8" height="10.8"/><rect x="1221.1" y="221.7" width="10.8" height="10.8"/><rect x="1271.7" y="172.5" width="10.8" height="10.8"/><rect x="1153.2" y="201.6" width="10.8" height="10.8"/><rect x="1179.2" y="202.3" width="10.8" height="10.8"/><rect x="1193.3" y="211.5" width="10.8" height="10.8"/><rect x="1186.2" y="222.7" width="10.8" height="10.8"/><rect x="1144.8" y="226.2" width="10.8" height="10.8"/><rect x="1132.9" y="229.7" width="10.8" height="10.8"/><rect x="1175.0" y="228.3" width="10.8" height="10.8"/><rect x="1120.2" y="236.7" width="10.8" height="10.8"/><rect x="1151.8" y="242.4" width="10.8" height="10.8"/><rect x="1165.2" y="239.5" width="10.8" height="10.8"/><rect x="1176.4" y="239.5" width="10.8" height="10.8"/><rect x="1187.6" y="235.3" width="10.8" height="10.8"/><rect x="1200.3" y="232.5" width="10.8" height="10.8"/><rect x="1130.0" y="250.8" width="10.8" height="10.8"/><rect x="1144.1" y="252.2" width="10.8" height="10.8"/><rect x="1156.7" y="250.8" width="10.8" height="10.8"/><rect x="1169.4" y="248.0" width="10.8" height="10.8"/><rect x="1182.0" y="246.6" width="10.8" height="10.8"/><rect x="1193.3" y="248.0" width="10.8" height="10.8"/><rect x="1205.9" y="246.6" width="10.8" height="10.8"/><rect x="1123.0" y="263.4" width="10.8" height="10.8"/><rect x="1134.3" y="262.0" width="10.8" height="10.8"/><rect x="1146.9" y="260.6" width="10.8" height="10.8"/><rect x="1159.5" y="260.6" width="10.8" height="10.8"/><rect x="1170.8" y="257.8" width="10.8" height="10.8"/><rect x="1183.4" y="259.2" width="10.8" height="10.8"/><rect x="1201.7" y="263.4" width="10.8" height="10.8"/><rect x="1128.6" y="273.3" width="10.8" height="10.8"/><rect x="1139.9" y="271.8" width="10.8" height="10.8"/><rect x="1151.1" y="270.4" width="10.8" height="10.8"/><rect x="1160.9" y="273.3" width="10.8" height="10.8"/><rect x="1172.2" y="269.0" width="10.8" height="10.8"/><rect x="1183.4" y="276.1" width="10.8" height="10.8"/><rect x="1201.7" y="283.1" width="10.8" height="10.8"/><rect x="1123.0" y="281.7" width="10.8" height="10.8"/><rect x="1134.3" y="283.1" width="10.8" height="10.8"/><rect x="1146.9" y="281.7" width="10.8" height="10.8"/><rect x="1156.7" y="281.7" width="10.8" height="10.8"/><rect x="1168.0" y="280.3" width="10.8" height="10.8"/><rect x="1176.4" y="284.5" width="10.8" height="10.8"/><rect x="1163.8" y="291.5" width="10.8" height="10.8"/><rect x="1046.5" y="260.2" width="10.8" height="10.8"/><rect x="1069.7" y="260.2" width="10.8" height="10.8"/><rect x="1082.4" y="260.9" width="10.8" height="10.8"/><rect x="1093.6" y="260.2" width="10.8" height="10.8"/><rect x="1118.9" y="257.4" width="10.8" height="10.8"/><rect x="1059.9" y="271.5" width="10.8" height="10.8"/><rect x="1085.2" y="272.2" width="10.8" height="10.8"/><rect x="1095.0" y="271.5" width="10.8" height="10.8"/><rect x="1106.2" y="275.7" width="10.8" height="10.8"/><rect x="1117.5" y="275.7" width="10.8" height="10.8"/><rect x="1094.3" y="289.7" width="10.8" height="10.8"/><rect x="1105.5" y="292.5" width="10.8" height="10.8"/><rect x="1116.1" y="292.5" width="10.8" height="10.8"/><rect x="1128.0" y="293.2" width="10.8" height="10.8"/><rect x="1057.1" y="294.6" width="10.8" height="10.8"/><rect x="1052.2" y="309.4" width="10.8" height="10.8"/><rect x="1061.3" y="315.0" width="10.8" height="10.8"/><rect x="1069.7" y="312.2" width="10.8" height="10.8"/><rect x="1090.8" y="310.8" width="10.8" height="10.8"/><rect x="1100.6" y="308.0" width="10.8" height="10.8"/><rect x="1111.8" y="303.8" width="10.8" height="10.8"/><rect x="1123.1" y="300.9" width="10.8" height="10.8"/><rect x="1090.8" y="319.2" width="10.8" height="10.8"/><rect x="1100.6" y="320.6" width="10.8" height="10.8"/><rect x="1113.3" y="315.0" width="10.8" height="10.8"/><rect x="1123.1" y="313.6" width="10.8" height="10.8"/><rect x="1064.1" y="324.8" width="10.8" height="10.8"/><rect x="1076.7" y="327.6" width="10.8" height="10.8"/><rect x="1090.8" y="329.0" width="10.8" height="10.8"/><rect x="1102.0" y="327.6" width="10.8" height="10.8"/><rect x="1117.5" y="327.6" width="10.8" height="10.8"/><rect x="1128.7" y="327.6" width="10.8" height="10.8"/><rect x="1048.6" y="333.3" width="10.8" height="10.8"/><rect x="1055.7" y="338.9" width="10.8" height="10.8"/><rect x="1065.5" y="336.1" width="10.8" height="10.8"/><rect x="1079.5" y="337.5" width="10.8" height="10.8"/><rect x="1093.6" y="337.5" width="10.8" height="10.8"/><rect x="1104.8" y="336.1" width="10.8" height="10.8"/><rect x="1118.9" y="340.3" width="10.8" height="10.8"/><rect x="1128.7" y="340.3" width="10.8" height="10.8"/><rect x="1047.2" y="345.9" width="10.8" height="10.8"/><rect x="1058.5" y="347.3" width="10.8" height="10.8"/><rect x="1069.7" y="344.5" width="10.8" height="10.8"/><rect x="1109.0" y="345.9" width="10.8" height="10.8"/><rect x="1132.9" y="333.3" width="10.8" height="10.8"/><rect x="1003.7" y="327.2" width="10.8" height="10.8"/><rect x="1019.9" y="327.2" width="10.8" height="10.8"/><rect x="1035.3" y="322.3" width="10.8" height="10.8"/><rect x="1022.7" y="337.8" width="10.8" height="10.8"/><rect x="1012.2" y="348.3" width="10.8" height="10.8"/><rect x="1035.3" y="348.3" width="10.8" height="10.8"/><rect x="1027.6" y="355.3" width="10.8" height="10.8"/><rect x="1073.3" y="352.5" width="10.8" height="10.8"/><rect x="1081.7" y="351.1" width="10.8" height="10.8"/><rect x="1070.4" y="360.9" width="10.8" height="10.8"/><rect x="1059.2" y="368.0" width="10.8" height="10.8"/><rect x="1048.0" y="363.8" width="10.8" height="10.8"/><rect x="1012.2" y="364.5" width="10.8" height="10.8"/><rect x="1010.0" y="391.8" width="10.8" height="10.8"/><rect x="1010.0" y="396.1" width="10.8" height="10.8"/><rect x="1056.4" y="382.0" width="10.8" height="10.8"/><rect x="1053.6" y="320.2" width="10.8" height="10.8"/><rect x="1078.9" y="317.4" width="10.8" height="10.8"/></g>
</g>
<line x1="838.7" y1="590.3" x2="1413.7" y2="14.6" stroke="#000" stroke-width="3.3" clip-path="url(#clip1)"/>
<rect x="838.7" y="14.6" width="575.0" height="575.6999999999999" fill="none" stroke="#000" stroke-width="1.9"/>
<line x1="838.70" y1="590.3" x2="838.70" y2="598.0999999999999" stroke="#000" stroke-width="1.3"/>
<line x1="830.9000000000001" y1="590.30" x2="838.7" y2="590.30" stroke="#000" stroke-width="1.3"/>
<line x1="920.84" y1="590.3" x2="920.84" y2="598.0999999999999" stroke="#000" stroke-width="1.3"/>
<line x1="830.9000000000001" y1="508.06" x2="838.7" y2="508.06" stroke="#000" stroke-width="1.3"/>
<line x1="1002.99" y1="590.3" x2="1002.99" y2="598.0999999999999" stroke="#000" stroke-width="1.3"/>
<line x1="830.9000000000001" y1="425.81" x2="838.7" y2="425.81" stroke="#000" stroke-width="1.3"/>
<line x1="1085.13" y1="590.3" x2="1085.13" y2="598.0999999999999" stroke="#000" stroke-width="1.3"/>
<line x1="830.9000000000001" y1="343.57" x2="838.7" y2="343.57" stroke="#000" stroke-width="1.3"/>
<line x1="1167.27" y1="590.3" x2="1167.27" y2="598.0999999999999" stroke="#000" stroke-width="1.3"/>
<line x1="830.9000000000001" y1="261.33" x2="838.7" y2="261.33" stroke="#000" stroke-width="1.3"/>
<line x1="1249.41" y1="590.3" x2="1249.41" y2="598.0999999999999" stroke="#000" stroke-width="1.3"/>
<line x1="830.9000000000001" y1="179.09" x2="838.7" y2="179.09" stroke="#000" stroke-width="1.3"/>
<line x1="1331.56" y1="590.3" x2="1331.56" y2="598.0999999999999" stroke="#000" stroke-width="1.3"/>
<line x1="830.9000000000001" y1="96.84" x2="838.7" y2="96.84" stroke="#000" stroke-width="1.3"/>
<line x1="1413.70" y1="590.3" x2="1413.70" y2="598.0999999999999" stroke="#000" stroke-width="1.3"/>
<line x1="830.9000000000001" y1="14.60" x2="838.7" y2="14.60" stroke="#000" stroke-width="1.3"/>
<rect x="847.0" y="23.1" width="496.4" height="63.9" rx="3.5" fill="#fff" fill-opacity=".8" stroke="#888" stroke-width="1.5"/>
<circle cx="871.6" cy="41.6" r="5.8" fill="rgb(65,105,225)" fill-opacity=".7" stroke="rgb(10,20,60)" stroke-opacity=".85" stroke-width="1.2"/>
<rect x="866.2" y="65.5" width="10.8" height="10.8" fill="rgb(234,62,2)" fill-opacity=".7" stroke="rgb(50,15,5)" stroke-opacity=".85" stroke-width="1.2"/>
<g font-family='"Liberation Serif", serif' font-size="29.0" lengthAdjust="spacingAndGlyphs"><rect x="84.32" y="616.42" width="16.28" height="2.06"/><text x="104.11" y="625.60" font-size="29.0" textLength="13.74" lengthAdjust="spacingAndGlyphs">1</text><text x="120.65" y="625.60" font-size="29.0" textLength="13.74" lengthAdjust="spacingAndGlyphs">1</text><rect x="41.89" y="590.92" width="16.28" height="2.06"/><text x="61.67" y="600.10" font-size="29.0" textLength="13.74" lengthAdjust="spacingAndGlyphs">1</text><text x="78.22" y="600.10" font-size="29.0" textLength="13.74" lengthAdjust="spacingAndGlyphs">1</text><rect x="166.38" y="616.42" width="16.28" height="2.06"/><text x="186.17" y="625.60" font-size="29.0" textLength="13.74" lengthAdjust="spacingAndGlyphs">1</text><text x="202.49" y="625.60" font-size="29.0" textLength="15.46" lengthAdjust="spacingAndGlyphs">0</text><rect x="41.89" y="508.68" width="16.28" height="2.06"/><text x="61.67" y="517.86" font-size="29.0" textLength="13.74" lengthAdjust="spacingAndGlyphs">1</text><text x="77.99" y="517.86" font-size="29.0" textLength="15.46" lengthAdjust="spacingAndGlyphs">0</text><rect x="256.71" y="616.42" width="16.28" height="2.06"/><text x="276.38" y="625.60" font-size="29.0" textLength="15.41" lengthAdjust="spacingAndGlyphs">9</text><rect x="58.43" y="426.44" width="16.28" height="2.06"/><text x="78.10" y="435.61" font-size="29.0" textLength="15.41" lengthAdjust="spacingAndGlyphs">9</text><rect x="338.76" y="616.42" width="16.28" height="2.06"/><text x="358.36" y="625.60" font-size="29.0" textLength="15.40" lengthAdjust="spacingAndGlyphs">8</text><rect x="58.43" y="344.19" width="16.28" height="2.06"/><text x="78.02" y="353.37" font-size="29.0" textLength="15.40" lengthAdjust="spacingAndGlyphs">8</text><rect x="420.82" y="616.42" width="16.28" height="2.06"/><text x="440.00" y="625.60" font-size="29.0" textLength="15.40" lengthAdjust="spacingAndGlyphs">7</text><rect x="58.43" y="261.95" width="16.28" height="2.06"/><text x="77.61" y="271.13" font-size="29.0" textLength="15.40" lengthAdjust="spacingAndGlyphs">7</text><rect x="502.88" y="616.42" width="16.28" height="2.06"/><text x="522.32" y="625.60" font-size="29.0" textLength="15.41" lengthAdjust="spacingAndGlyphs">6</text><rect x="58.43" y="179.71" width="16.28" height="2.06"/><text x="77.87" y="188.89" font-size="29.0" textLength="15.41" lengthAdjust="spacingAndGlyphs">6</text><rect x="584.93" y="616.42" width="16.28" height="2.06"/><text x="604.40" y="625.60" font-size="29.0" textLength="15.30" lengthAdjust="spacingAndGlyphs">5</text><rect x="58.43" y="97.46" width="16.28" height="2.06"/><text x="77.89" y="106.64" font-size="29.0" textLength="15.30" lengthAdjust="spacingAndGlyphs">5</text><rect x="666.99" y="616.42" width="16.28" height="2.06"/><text x="686.21" y="625.60" font-size="29.0" textLength="15.53" lengthAdjust="spacingAndGlyphs">4</text><rect x="58.43" y="15.22" width="16.28" height="2.06"/><text x="77.65" y="24.40" font-size="29.0" textLength="15.53" lengthAdjust="spacingAndGlyphs">4</text><text x="225.01" y="659.60" font-size="29.3" textLength="17.24" lengthAdjust="spacingAndGlyphs">P</text><text x="242.11" y="659.60" font-size="29.3" textLength="12.55" lengthAdjust="spacingAndGlyphs">r</text><text x="254.28" y="659.60" font-size="29.3" textLength="15.32" lengthAdjust="spacingAndGlyphs">e</text><text x="269.82" y="659.60" font-size="29.3" textLength="16.12" lengthAdjust="spacingAndGlyphs">d</text><text x="286.64" y="659.60" font-size="29.3" textLength="7.91" lengthAdjust="spacingAndGlyphs">i</text><text x="294.67" y="659.60" font-size="29.3" textLength="14.26" lengthAdjust="spacingAndGlyphs">c</text><text x="309.53" y="659.60" font-size="29.3" textLength="10.04" lengthAdjust="spacingAndGlyphs">t</text><text x="319.51" y="659.60" font-size="29.3" textLength="15.32" lengthAdjust="spacingAndGlyphs">e</text><text x="335.05" y="659.60" font-size="29.3" textLength="16.12" lengthAdjust="spacingAndGlyphs">d</text><text x="359.96" y="659.60" font-size="29.3" textLength="7.92" lengthAdjust="spacingAndGlyphs">l</text><text x="368.20" y="659.60" font-size="29.3" textLength="15.37" lengthAdjust="spacingAndGlyphs">o</text><text x="383.57" y="659.60" font-size="29.3" textLength="16.62" lengthAdjust="spacingAndGlyphs">g</text><text x="401.30" y="659.60" font-size="29.3" textLength="8.07" lengthAdjust="spacingAndGlyphs">(</text><text x="410.68" y="659.60" font-size="29.3" textLength="19.68" lengthAdjust="spacingAndGlyphs">C</text><text x="430.66" y="659.60" font-size="29.3" textLength="19.15" lengthAdjust="spacingAndGlyphs">G</text><text x="451.60" y="659.60" font-size="29.3" textLength="19.62" lengthAdjust="spacingAndGlyphs">R</text><text x="470.27" y="659.60" font-size="29.3" textLength="8.06" lengthAdjust="spacingAndGlyphs">,</text><text x="487.34" y="659.60" font-size="29.3" textLength="24.09" lengthAdjust="spacingAndGlyphs">m</text><text x="511.95" y="659.60" font-size="29.3" textLength="24.09" lengthAdjust="spacingAndGlyphs">m</text><text x="536.27" y="659.60" font-size="29.3" textLength="8.74" lengthAdjust="spacingAndGlyphs">/</text><text x="545.08" y="659.60" font-size="29.3" textLength="13.13" lengthAdjust="spacingAndGlyphs">s</text><text x="559.38" y="659.60" font-size="29.3" textLength="8.08" lengthAdjust="spacingAndGlyphs">)</text><rect x="813.72" y="616.42" width="16.28" height="2.06"/><text x="833.51" y="625.60" font-size="29.0" textLength="13.74" lengthAdjust="spacingAndGlyphs">1</text><text x="850.05" y="625.60" font-size="29.0" textLength="13.74" lengthAdjust="spacingAndGlyphs">1</text><rect x="771.29" y="590.92" width="16.28" height="2.06"/><text x="791.07" y="600.10" font-size="29.0" textLength="13.74" lengthAdjust="spacingAndGlyphs">1</text><text x="807.62" y="600.10" font-size="29.0" textLength="13.74" lengthAdjust="spacingAndGlyphs">1</text><rect x="895.86" y="616.42" width="16.28" height="2.06"/><text x="915.65" y="625.60" font-size="29.0" textLength="13.74" lengthAdjust="spacingAndGlyphs">1</text><text x="931.97" y="625.60" font-size="29.0" textLength="15.46" lengthAdjust="spacingAndGlyphs">0</text><rect x="771.29" y="508.68" width="16.28" height="2.06"/><text x="791.07" y="517.86" font-size="29.0" textLength="13.74" lengthAdjust="spacingAndGlyphs">1</text><text x="807.39" y="517.86" font-size="29.0" textLength="15.46" lengthAdjust="spacingAndGlyphs">0</text><rect x="986.28" y="616.42" width="16.28" height="2.06"/><text x="1005.95" y="625.60" font-size="29.0" textLength="15.41" lengthAdjust="spacingAndGlyphs">9</text><rect x="787.83" y="426.44" width="16.28" height="2.06"/><text x="807.50" y="435.61" font-size="29.0" textLength="15.41" lengthAdjust="spacingAndGlyphs">9</text><rect x="1068.42" y="616.42" width="16.28" height="2.06"/><text x="1088.02" y="625.60" font-size="29.0" textLength="15.40" lengthAdjust="spacingAndGlyphs">8</text><rect x="787.83" y="344.19" width="16.28" height="2.06"/><text x="807.42" y="353.37" font-size="29.0" textLength="15.40" lengthAdjust="spacingAndGlyphs">8</text><rect x="1150.56" y="616.42" width="16.28" height="2.06"/><text x="1169.75" y="625.60" font-size="29.0" textLength="15.40" lengthAdjust="spacingAndGlyphs">7</text><rect x="787.83" y="261.95" width="16.28" height="2.06"/><text x="807.01" y="271.13" font-size="29.0" textLength="15.40" lengthAdjust="spacingAndGlyphs">7</text><rect x="1232.71" y="616.42" width="16.28" height="2.06"/><text x="1252.15" y="625.60" font-size="29.0" textLength="15.41" lengthAdjust="spacingAndGlyphs">6</text><rect x="787.83" y="179.71" width="16.28" height="2.06"/><text x="807.27" y="188.89" font-size="29.0" textLength="15.41" lengthAdjust="spacingAndGlyphs">6</text><rect x="1314.85" y="616.42" width="16.28" height="2.06"/><text x="1334.31" y="625.60" font-size="29.0" textLength="15.30" lengthAdjust="spacingAndGlyphs">5</text><rect x="787.83" y="97.46" width="16.28" height="2.06"/><text x="807.29" y="106.64" font-size="29.0" textLength="15.30" lengthAdjust="spacingAndGlyphs">5</text><rect x="1396.99" y="616.42" width="16.28" height="2.06"/><text x="1416.21" y="625.60" font-size="29.0" textLength="15.53" lengthAdjust="spacingAndGlyphs">4</text><rect x="787.83" y="15.22" width="16.28" height="2.06"/><text x="807.05" y="24.40" font-size="29.0" textLength="15.53" lengthAdjust="spacingAndGlyphs">4</text><text x="954.41" y="659.60" font-size="29.3" textLength="17.24" lengthAdjust="spacingAndGlyphs">P</text><text x="971.51" y="659.60" font-size="29.3" textLength="12.55" lengthAdjust="spacingAndGlyphs">r</text><text x="983.68" y="659.60" font-size="29.3" textLength="15.32" lengthAdjust="spacingAndGlyphs">e</text><text x="999.22" y="659.60" font-size="29.3" textLength="16.12" lengthAdjust="spacingAndGlyphs">d</text><text x="1016.04" y="659.60" font-size="29.3" textLength="7.91" lengthAdjust="spacingAndGlyphs">i</text><text x="1024.07" y="659.60" font-size="29.3" textLength="14.26" lengthAdjust="spacingAndGlyphs">c</text><text x="1038.93" y="659.60" font-size="29.3" textLength="10.04" lengthAdjust="spacingAndGlyphs">t</text><text x="1048.91" y="659.60" font-size="29.3" textLength="15.32" lengthAdjust="spacingAndGlyphs">e</text><text x="1064.45" y="659.60" font-size="29.3" textLength="16.12" lengthAdjust="spacingAndGlyphs">d</text><text x="1089.36" y="659.60" font-size="29.3" textLength="7.92" lengthAdjust="spacingAndGlyphs">l</text><text x="1097.60" y="659.60" font-size="29.3" textLength="15.37" lengthAdjust="spacingAndGlyphs">o</text><text x="1112.97" y="659.60" font-size="29.3" textLength="16.62" lengthAdjust="spacingAndGlyphs">g</text><text x="1130.70" y="659.60" font-size="29.3" textLength="8.07" lengthAdjust="spacingAndGlyphs">(</text><text x="1140.08" y="659.60" font-size="29.3" textLength="19.68" lengthAdjust="spacingAndGlyphs">C</text><text x="1160.06" y="659.60" font-size="29.3" textLength="19.15" lengthAdjust="spacingAndGlyphs">G</text><text x="1181.00" y="659.60" font-size="29.3" textLength="19.62" lengthAdjust="spacingAndGlyphs">R</text><text x="1199.67" y="659.60" font-size="29.3" textLength="8.06" lengthAdjust="spacingAndGlyphs">,</text><text x="1216.74" y="659.60" font-size="29.3" textLength="24.09" lengthAdjust="spacingAndGlyphs">m</text><text x="1241.35" y="659.60" font-size="29.3" textLength="24.09" lengthAdjust="spacingAndGlyphs">m</text><text x="1265.67" y="659.60" font-size="29.3" textLength="8.74" lengthAdjust="spacingAndGlyphs">/</text><text x="1274.48" y="659.60" font-size="29.3" textLength="13.13" lengthAdjust="spacingAndGlyphs">s</text><text x="1288.78" y="659.60" font-size="29.3" textLength="8.08" lengthAdjust="spacingAndGlyphs">)</text></g>
<g transform="rotate(-90)" font-family='"Liberation Serif", serif' lengthAdjust="spacingAndGlyphs" font-size="29.3"><text x="-476.33" y="24.60" font-size="29.3" textLength="25.59" lengthAdjust="spacingAndGlyphs">M</text><text x="-450.32" y="24.60" font-size="29.3" textLength="15.29" lengthAdjust="spacingAndGlyphs">e</text><text x="-434.84" y="24.60" font-size="29.3" textLength="15.08" lengthAdjust="spacingAndGlyphs">a</text><text x="-419.42" y="24.60" font-size="29.3" textLength="13.11" lengthAdjust="spacingAndGlyphs">s</text><text x="-405.92" y="24.60" font-size="29.3" textLength="16.00" lengthAdjust="spacingAndGlyphs">u</text><text x="-389.33" y="24.60" font-size="29.3" textLength="12.53" lengthAdjust="spacingAndGlyphs">r</text><text x="-377.18" y="24.60" font-size="29.3" textLength="15.29" lengthAdjust="spacingAndGlyphs">e</text><text x="-361.67" y="24.60" font-size="29.3" textLength="16.09" lengthAdjust="spacingAndGlyphs">d</text><text x="-336.80" y="24.60" font-size="29.3" textLength="7.91" lengthAdjust="spacingAndGlyphs">l</text><text x="-328.57" y="24.60" font-size="29.3" textLength="15.34" lengthAdjust="spacingAndGlyphs">o</text><text x="-313.23" y="24.60" font-size="29.3" textLength="16.59" lengthAdjust="spacingAndGlyphs">g</text><text x="-295.52" y="24.60" font-size="29.3" textLength="8.05" lengthAdjust="spacingAndGlyphs">(</text><text x="-286.16" y="24.60" font-size="29.3" textLength="19.64" lengthAdjust="spacingAndGlyphs">C</text><text x="-266.21" y="24.60" font-size="29.3" textLength="19.12" lengthAdjust="spacingAndGlyphs">G</text><text x="-245.30" y="24.60" font-size="29.3" textLength="19.58" lengthAdjust="spacingAndGlyphs">R</text><text x="-226.67" y="24.60" font-size="29.3" textLength="8.05" lengthAdjust="spacingAndGlyphs">,</text><text x="-209.62" y="24.60" font-size="29.3" textLength="24.05" lengthAdjust="spacingAndGlyphs">m</text><text x="-185.06" y="24.60" font-size="29.3" textLength="24.05" lengthAdjust="spacingAndGlyphs">m</text><text x="-160.78" y="24.60" font-size="29.3" textLength="8.73" lengthAdjust="spacingAndGlyphs">/</text><text x="-151.98" y="24.60" font-size="29.3" textLength="13.11" lengthAdjust="spacingAndGlyphs">s</text><text x="-137.70" y="24.60" font-size="29.3" textLength="8.07" lengthAdjust="spacingAndGlyphs">)</text><text x="-476.33" y="754.00" font-size="29.3" textLength="25.59" lengthAdjust="spacingAndGlyphs">M</text><text x="-450.32" y="754.00" font-size="29.3" textLength="15.29" lengthAdjust="spacingAndGlyphs">e</text><text x="-434.84" y="754.00" font-size="29.3" textLength="15.08" lengthAdjust="spacingAndGlyphs">a</text><text x="-419.42" y="754.00" font-size="29.3" textLength="13.11" lengthAdjust="spacingAndGlyphs">s</text><text x="-405.92" y="754.00" font-size="29.3" textLength="16.00" lengthAdjust="spacingAndGlyphs">u</text><text x="-389.33" y="754.00" font-size="29.3" textLength="12.53" lengthAdjust="spacingAndGlyphs">r</text><text x="-377.18" y="754.00" font-size="29.3" textLength="15.29" lengthAdjust="spacingAndGlyphs">e</text><text x="-361.67" y="754.00" font-size="29.3" textLength="16.09" lengthAdjust="spacingAndGlyphs">d</text><text x="-336.80" y="754.00" font-size="29.3" textLength="7.91" lengthAdjust="spacingAndGlyphs">l</text><text x="-328.57" y="754.00" font-size="29.3" textLength="15.34" lengthAdjust="spacingAndGlyphs">o</text><text x="-313.23" y="754.00" font-size="29.3" textLength="16.59" lengthAdjust="spacingAndGlyphs">g</text><text x="-295.52" y="754.00" font-size="29.3" textLength="8.05" lengthAdjust="spacingAndGlyphs">(</text><text x="-286.16" y="754.00" font-size="29.3" textLength="19.64" lengthAdjust="spacingAndGlyphs">C</text><text x="-266.21" y="754.00" font-size="29.3" textLength="19.12" lengthAdjust="spacingAndGlyphs">G</text><text x="-245.30" y="754.00" font-size="29.3" textLength="19.58" lengthAdjust="spacingAndGlyphs">R</text><text x="-226.67" y="754.00" font-size="29.3" textLength="8.05" lengthAdjust="spacingAndGlyphs">,</text><text x="-209.62" y="754.00" font-size="29.3" textLength="24.05" lengthAdjust="spacingAndGlyphs">m</text><text x="-185.06" y="754.00" font-size="29.3" textLength="24.05" lengthAdjust="spacingAndGlyphs">m</text><text x="-160.78" y="754.00" font-size="29.3" textLength="8.73" lengthAdjust="spacingAndGlyphs">/</text><text x="-151.98" y="754.00" font-size="29.3" textLength="13.11" lengthAdjust="spacingAndGlyphs">s</text><text x="-137.70" y="754.00" font-size="29.3" textLength="8.07" lengthAdjust="spacingAndGlyphs">)</text></g>
<g font-family='"Liberation Sans", sans-serif' font-weight="bold" font-size="30" lengthAdjust="spacingAndGlyphs"><text x="370.23" y="703.60" font-size="30" textLength="8.51" lengthAdjust="spacingAndGlyphs">(</text><text x="381.00" y="703.60" font-size="30" textLength="14.29" lengthAdjust="spacingAndGlyphs">a</text><text x="399.37" y="703.60" font-size="30" textLength="8.51" lengthAdjust="spacingAndGlyphs">)</text><text x="1101.12" y="703.60" font-size="30" textLength="8.55" lengthAdjust="spacingAndGlyphs">(</text><text x="1111.82" y="703.60" font-size="30" textLength="17.71" lengthAdjust="spacingAndGlyphs">b</text><text x="1131.43" y="703.60" font-size="30" textLength="8.55" lengthAdjust="spacingAndGlyphs">)</text></g>
<g font-family='"Liberation Serif", serif' font-size="19.1" lengthAdjust="spacingAndGlyphs"><text x="174.08" y="45.90" font-size="19.1" textLength="12.07" lengthAdjust="spacingAndGlyphs">B</text><text x="186.38" y="45.90" font-size="19.1" textLength="17.64" lengthAdjust="spacingAndGlyphs">W</text><text x="204.43" y="45.90" font-size="19.1" textLength="13.03" lengthAdjust="spacingAndGlyphs">R</text><text x="223.15" y="45.90" font-size="19.1" textLength="5.36" lengthAdjust="spacingAndGlyphs">(</text><text x="229.61" y="45.90" font-size="19.1" textLength="13.03" lengthAdjust="spacingAndGlyphs">R</text><text x="242.91" y="39.70" font-family='"Liberation Serif", serif' font-size="12.7" textLength="6.74" lengthAdjust="spacingAndGlyphs">2</text><text x="256.04" y="45.90" font-size="19.1" textLength="13.08" lengthAdjust="spacingAndGlyphs">=</text><text x="275.65" y="45.90" font-size="19.1" textLength="10.25" lengthAdjust="spacingAndGlyphs">0</text><text x="286.64" y="45.90" font-size="19.1" textLength="4.74" lengthAdjust="spacingAndGlyphs">.</text><text x="291.85" y="45.90" font-size="19.1" textLength="10.21" lengthAdjust="spacingAndGlyphs">7</text><text x="303.09" y="45.90" font-size="19.1" textLength="10.21" lengthAdjust="spacingAndGlyphs">8</text><text x="313.79" y="45.90" font-size="19.1" textLength="10.21" lengthAdjust="spacingAndGlyphs">7</text><text x="331.00" y="45.90" font-size="19.1" textLength="12.73" lengthAdjust="spacingAndGlyphs" fill="#666">±</text><text x="350.41" y="45.90" font-size="19.1" textLength="10.25" lengthAdjust="spacingAndGlyphs">0</text><text x="361.40" y="45.90" font-size="19.1" textLength="4.74" lengthAdjust="spacingAndGlyphs">.</text><text x="366.86" y="45.90" font-size="19.1" textLength="10.25" lengthAdjust="spacingAndGlyphs">0</text><text x="377.85" y="45.90" font-size="19.1" textLength="10.21" lengthAdjust="spacingAndGlyphs">8</text><text x="388.95" y="45.90" font-size="19.1" textLength="9.11" lengthAdjust="spacingAndGlyphs">1</text><text x="399.22" y="45.90" font-size="19.1" textLength="5.36" lengthAdjust="spacingAndGlyphs">,</text><text x="410.68" y="45.90" font-size="19.1" textLength="17.03" lengthAdjust="spacingAndGlyphs">M</text><text x="427.75" y="45.90" font-size="19.1" textLength="13.03" lengthAdjust="spacingAndGlyphs">A</text><text x="440.87" y="45.90" font-size="19.1" textLength="11.77" lengthAdjust="spacingAndGlyphs">E</text><text x="459.21" y="45.90" font-size="19.1" textLength="13.08" lengthAdjust="spacingAndGlyphs">=</text><text x="478.82" y="45.90" font-size="19.1" textLength="10.25" lengthAdjust="spacingAndGlyphs">0</text><text x="489.81" y="45.90" font-size="19.1" textLength="4.74" lengthAdjust="spacingAndGlyphs">.</text><text x="495.20" y="45.90" font-size="19.1" textLength="10.11" lengthAdjust="spacingAndGlyphs">2</text><text x="506.16" y="45.90" font-size="19.1" textLength="10.22" lengthAdjust="spacingAndGlyphs">6</text><text x="517.36" y="45.90" font-size="19.1" textLength="9.11" lengthAdjust="spacingAndGlyphs">1</text><text x="534.17" y="45.90" font-size="19.1" textLength="12.73" lengthAdjust="spacingAndGlyphs" fill="#666">±</text><text x="553.58" y="45.90" font-size="19.1" textLength="10.25" lengthAdjust="spacingAndGlyphs">0</text><text x="564.57" y="45.90" font-size="19.1" textLength="4.74" lengthAdjust="spacingAndGlyphs">.</text><text x="570.03" y="45.90" font-size="19.1" textLength="10.25" lengthAdjust="spacingAndGlyphs">0</text><text x="580.77" y="45.90" font-size="19.1" textLength="10.30" lengthAdjust="spacingAndGlyphs">4</text><text x="591.90" y="45.90" font-size="19.1" textLength="10.15" lengthAdjust="spacingAndGlyphs">5</text><text x="603.28" y="45.90" font-size="19.1" textLength="5.37" lengthAdjust="spacingAndGlyphs">)</text><text x="174.01" y="75.50" font-size="19.1" textLength="11.45" lengthAdjust="spacingAndGlyphs">P</text><text x="185.31" y="75.50" font-size="19.1" textLength="17.64" lengthAdjust="spacingAndGlyphs">W</text><text x="203.36" y="75.50" font-size="19.1" textLength="13.03" lengthAdjust="spacingAndGlyphs">R</text><text x="222.09" y="75.50" font-size="19.1" textLength="5.36" lengthAdjust="spacingAndGlyphs">(</text><text x="228.54" y="75.50" font-size="19.1" textLength="13.03" lengthAdjust="spacingAndGlyphs">R</text><text x="241.84" y="69.30" font-family='"Liberation Serif", serif' font-size="12.7" textLength="6.74" lengthAdjust="spacingAndGlyphs">2</text><text x="254.98" y="75.50" font-size="19.1" textLength="13.08" lengthAdjust="spacingAndGlyphs">=</text><text x="274.59" y="75.50" font-size="19.1" textLength="10.25" lengthAdjust="spacingAndGlyphs">0</text><text x="285.57" y="75.50" font-size="19.1" textLength="4.74" lengthAdjust="spacingAndGlyphs">.</text><text x="291.05" y="75.50" font-size="19.1" textLength="10.21" lengthAdjust="spacingAndGlyphs">8</text><text x="302.00" y="75.50" font-size="19.1" textLength="10.25" lengthAdjust="spacingAndGlyphs">0</text><text x="312.97" y="75.50" font-size="19.1" textLength="10.25" lengthAdjust="spacingAndGlyphs">0</text><text x="329.93" y="75.50" font-size="19.1" textLength="12.73" lengthAdjust="spacingAndGlyphs" fill="#666">±</text><text x="349.35" y="75.50" font-size="19.1" textLength="10.25" lengthAdjust="spacingAndGlyphs">0</text><text x="360.33" y="75.50" font-size="19.1" textLength="4.74" lengthAdjust="spacingAndGlyphs">.</text><text x="365.79" y="75.50" font-size="19.1" textLength="10.25" lengthAdjust="spacingAndGlyphs">0</text><text x="376.69" y="75.50" font-size="19.1" textLength="10.11" lengthAdjust="spacingAndGlyphs">2</text><text x="387.75" y="75.50" font-size="19.1" textLength="10.21" lengthAdjust="spacingAndGlyphs">8</text><text x="398.15" y="75.50" font-size="19.1" textLength="5.36" lengthAdjust="spacingAndGlyphs">,</text><text x="409.61" y="75.50" font-size="19.1" textLength="17.03" lengthAdjust="spacingAndGlyphs">M</text><text x="426.68" y="75.50" font-size="19.1" textLength="13.03" lengthAdjust="spacingAndGlyphs">A</text><text x="439.80" y="75.50" font-size="19.1" textLength="11.77" lengthAdjust="spacingAndGlyphs">E</text><text x="458.14" y="75.50" font-size="19.1" textLength="13.08" lengthAdjust="spacingAndGlyphs">=</text><text x="477.75" y="75.50" font-size="19.1" textLength="10.25" lengthAdjust="spacingAndGlyphs">0</text><text x="488.74" y="75.50" font-size="19.1" textLength="4.74" lengthAdjust="spacingAndGlyphs">.</text><text x="494.13" y="75.50" font-size="19.1" textLength="10.11" lengthAdjust="spacingAndGlyphs">2</text><text x="504.92" y="75.50" font-size="19.1" textLength="10.21" lengthAdjust="spacingAndGlyphs">7</text><text x="516.07" y="75.50" font-size="19.1" textLength="10.15" lengthAdjust="spacingAndGlyphs">5</text><text x="533.10" y="75.50" font-size="19.1" textLength="12.73" lengthAdjust="spacingAndGlyphs" fill="#666">±</text><text x="552.51" y="75.50" font-size="19.1" textLength="10.25" lengthAdjust="spacingAndGlyphs">0</text><text x="563.50" y="75.50" font-size="19.1" textLength="4.74" lengthAdjust="spacingAndGlyphs">.</text><text x="568.96" y="75.50" font-size="19.1" textLength="10.25" lengthAdjust="spacingAndGlyphs">0</text><text x="580.08" y="75.50" font-size="19.1" textLength="9.11" lengthAdjust="spacingAndGlyphs">1</text><text x="590.92" y="75.50" font-size="19.1" textLength="10.21" lengthAdjust="spacingAndGlyphs">8</text><text x="602.21" y="75.50" font-size="19.1" textLength="5.37" lengthAdjust="spacingAndGlyphs">)</text><text x="903.48" y="45.90" font-size="19.1" textLength="12.07" lengthAdjust="spacingAndGlyphs">B</text><text x="915.78" y="45.90" font-size="19.1" textLength="17.64" lengthAdjust="spacingAndGlyphs">W</text><text x="933.83" y="45.90" font-size="19.1" textLength="13.03" lengthAdjust="spacingAndGlyphs">R</text><text x="952.55" y="45.90" font-size="19.1" textLength="5.36" lengthAdjust="spacingAndGlyphs">(</text><text x="959.01" y="45.90" font-size="19.1" textLength="13.03" lengthAdjust="spacingAndGlyphs">R</text><text x="972.31" y="39.70" font-family='"Liberation Serif", serif' font-size="12.7" textLength="6.74" lengthAdjust="spacingAndGlyphs">2</text><text x="985.44" y="45.90" font-size="19.1" textLength="13.08" lengthAdjust="spacingAndGlyphs">=</text><text x="1005.05" y="45.90" font-size="19.1" textLength="10.25" lengthAdjust="spacingAndGlyphs">0</text><text x="1016.04" y="45.90" font-size="19.1" textLength="4.74" lengthAdjust="spacingAndGlyphs">.</text><text x="1021.25" y="45.90" font-size="19.1" textLength="10.21" lengthAdjust="spacingAndGlyphs">7</text><text x="1032.54" y="45.90" font-size="19.1" textLength="10.22" lengthAdjust="spacingAndGlyphs">9</text><text x="1043.46" y="45.90" font-size="19.1" textLength="10.21" lengthAdjust="spacingAndGlyphs">8</text><text x="1060.40" y="45.90" font-size="19.1" textLength="12.73" lengthAdjust="spacingAndGlyphs" fill="#666">±</text><text x="1079.81" y="45.90" font-size="19.1" textLength="10.25" lengthAdjust="spacingAndGlyphs">0</text><text x="1090.80" y="45.90" font-size="19.1" textLength="4.74" lengthAdjust="spacingAndGlyphs">.</text><text x="1096.26" y="45.90" font-size="19.1" textLength="10.25" lengthAdjust="spacingAndGlyphs">0</text><text x="1107.16" y="45.90" font-size="19.1" textLength="10.15" lengthAdjust="spacingAndGlyphs">5</text><text x="1118.13" y="45.90" font-size="19.1" textLength="10.11" lengthAdjust="spacingAndGlyphs">2</text><text x="1128.62" y="45.90" font-size="19.1" textLength="5.36" lengthAdjust="spacingAndGlyphs">,</text><text x="1140.08" y="45.90" font-size="19.1" textLength="17.03" lengthAdjust="spacingAndGlyphs">M</text><text x="1157.15" y="45.90" font-size="19.1" textLength="13.03" lengthAdjust="spacingAndGlyphs">A</text><text x="1170.27" y="45.90" font-size="19.1" textLength="11.77" lengthAdjust="spacingAndGlyphs">E</text><text x="1188.61" y="45.90" font-size="19.1" textLength="13.08" lengthAdjust="spacingAndGlyphs">=</text><text x="1208.22" y="45.90" font-size="19.1" textLength="10.25" lengthAdjust="spacingAndGlyphs">0</text><text x="1219.21" y="45.90" font-size="19.1" textLength="4.74" lengthAdjust="spacingAndGlyphs">.</text><text x="1224.60" y="45.90" font-size="19.1" textLength="10.11" lengthAdjust="spacingAndGlyphs">2</text><text x="1235.56" y="45.90" font-size="19.1" textLength="10.22" lengthAdjust="spacingAndGlyphs">6</text><text x="1246.63" y="45.90" font-size="19.1" textLength="10.21" lengthAdjust="spacingAndGlyphs">8</text><text x="1263.57" y="45.90" font-size="19.1" textLength="12.73" lengthAdjust="spacingAndGlyphs" fill="#666">±</text><text x="1282.98" y="45.90" font-size="19.1" textLength="10.25" lengthAdjust="spacingAndGlyphs">0</text><text x="1293.97" y="45.90" font-size="19.1" textLength="4.74" lengthAdjust="spacingAndGlyphs">.</text><text x="1299.43" y="45.90" font-size="19.1" textLength="10.25" lengthAdjust="spacingAndGlyphs">0</text><text x="1310.33" y="45.90" font-size="19.1" textLength="10.11" lengthAdjust="spacingAndGlyphs">2</text><text x="1321.39" y="45.90" font-size="19.1" textLength="10.21" lengthAdjust="spacingAndGlyphs">8</text><text x="1332.68" y="45.90" font-size="19.1" textLength="5.37" lengthAdjust="spacingAndGlyphs">)</text><text x="903.41" y="75.50" font-size="19.1" textLength="11.45" lengthAdjust="spacingAndGlyphs">P</text><text x="914.71" y="75.50" font-size="19.1" textLength="17.64" lengthAdjust="spacingAndGlyphs">W</text><text x="932.76" y="75.50" font-size="19.1" textLength="13.03" lengthAdjust="spacingAndGlyphs">R</text><text x="951.49" y="75.50" font-size="19.1" textLength="5.36" lengthAdjust="spacingAndGlyphs">(</text><text x="957.94" y="75.50" font-size="19.1" textLength="13.03" lengthAdjust="spacingAndGlyphs">R</text><text x="971.24" y="69.30" font-family='"Liberation Serif", serif' font-size="12.7" textLength="6.74" lengthAdjust="spacingAndGlyphs">2</text><text x="984.38" y="75.50" font-size="19.1" textLength="13.08" lengthAdjust="spacingAndGlyphs">=</text><text x="1003.99" y="75.50" font-size="19.1" textLength="10.25" lengthAdjust="spacingAndGlyphs">0</text><text x="1014.97" y="75.50" font-size="19.1" textLength="4.74" lengthAdjust="spacingAndGlyphs">.</text><text x="1020.45" y="75.50" font-size="19.1" textLength="10.21" lengthAdjust="spacingAndGlyphs">8</text><text x="1031.40" y="75.50" font-size="19.1" textLength="10.25" lengthAdjust="spacingAndGlyphs">0</text><text x="1042.30" y="75.50" font-size="19.1" textLength="10.11" lengthAdjust="spacingAndGlyphs">2</text><text x="1059.33" y="75.50" font-size="19.1" textLength="12.73" lengthAdjust="spacingAndGlyphs" fill="#666">±</text><text x="1078.75" y="75.50" font-size="19.1" textLength="10.25" lengthAdjust="spacingAndGlyphs">0</text><text x="1089.73" y="75.50" font-size="19.1" textLength="4.74" lengthAdjust="spacingAndGlyphs">.</text><text x="1095.19" y="75.50" font-size="19.1" textLength="10.25" lengthAdjust="spacingAndGlyphs">0</text><text x="1106.09" y="75.50" font-size="19.1" textLength="10.11" lengthAdjust="spacingAndGlyphs">2</text><text x="1117.06" y="75.50" font-size="19.1" textLength="10.15" lengthAdjust="spacingAndGlyphs">5</text><text x="1127.55" y="75.50" font-size="19.1" textLength="5.36" lengthAdjust="spacingAndGlyphs">,</text><text x="1139.01" y="75.50" font-size="19.1" textLength="17.03" lengthAdjust="spacingAndGlyphs">M</text><text x="1156.08" y="75.50" font-size="19.1" textLength="13.03" lengthAdjust="spacingAndGlyphs">A</text><text x="1169.20" y="75.50" font-size="19.1" textLength="11.77" lengthAdjust="spacingAndGlyphs">E</text><text x="1187.54" y="75.50" font-size="19.1" textLength="13.08" lengthAdjust="spacingAndGlyphs">=</text><text x="1207.15" y="75.50" font-size="19.1" textLength="10.25" lengthAdjust="spacingAndGlyphs">0</text><text x="1218.14" y="75.50" font-size="19.1" textLength="4.74" lengthAdjust="spacingAndGlyphs">.</text><text x="1223.53" y="75.50" font-size="19.1" textLength="10.11" lengthAdjust="spacingAndGlyphs">2</text><text x="1234.32" y="75.50" font-size="19.1" textLength="10.21" lengthAdjust="spacingAndGlyphs">7</text><text x="1245.47" y="75.50" font-size="19.1" textLength="10.15" lengthAdjust="spacingAndGlyphs">5</text><text x="1262.50" y="75.50" font-size="19.1" textLength="12.73" lengthAdjust="spacingAndGlyphs" fill="#666">±</text><text x="1281.91" y="75.50" font-size="19.1" textLength="10.25" lengthAdjust="spacingAndGlyphs">0</text><text x="1292.90" y="75.50" font-size="19.1" textLength="4.74" lengthAdjust="spacingAndGlyphs">.</text><text x="1298.36" y="75.50" font-size="19.1" textLength="10.25" lengthAdjust="spacingAndGlyphs">0</text><text x="1309.48" y="75.50" font-size="19.1" textLength="9.11" lengthAdjust="spacingAndGlyphs">1</text><text x="1320.22" y="75.50" font-size="19.1" textLength="10.11" lengthAdjust="spacingAndGlyphs">2</text><text x="1331.61" y="75.50" font-size="19.1" textLength="5.37" lengthAdjust="spacingAndGlyphs">)</text></g>
</svg></body></html>
